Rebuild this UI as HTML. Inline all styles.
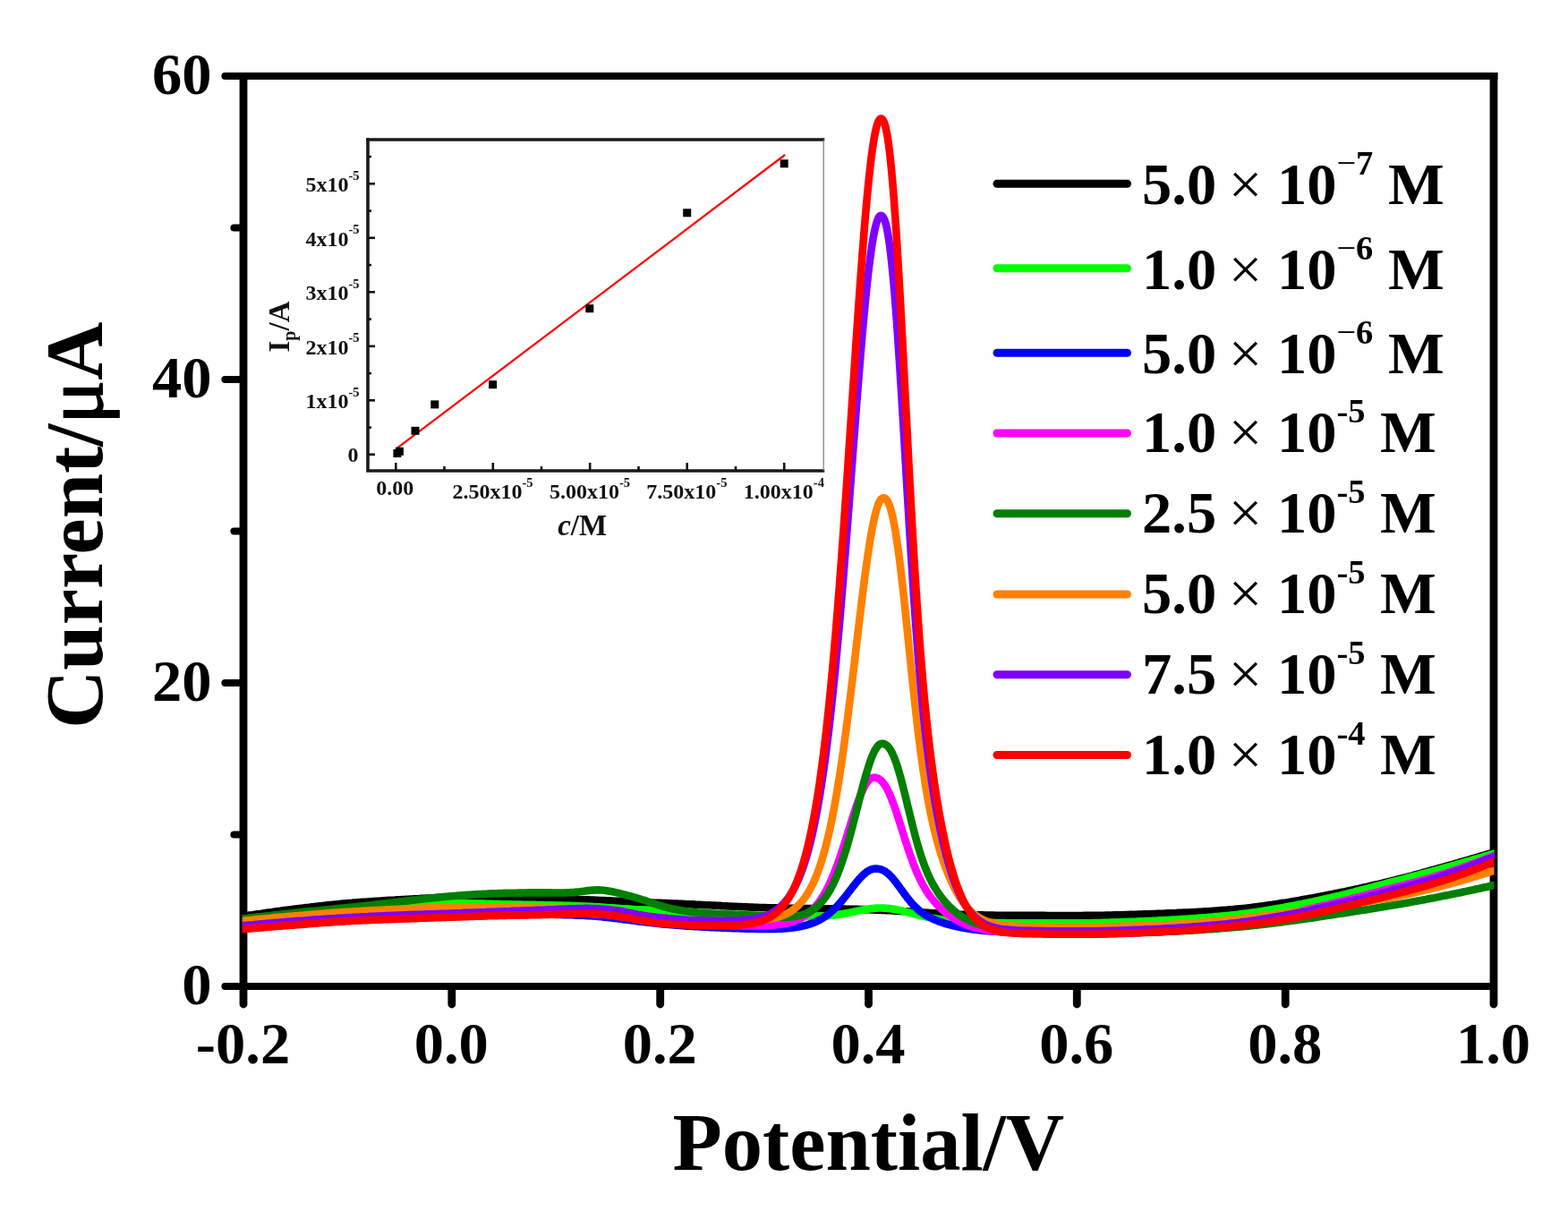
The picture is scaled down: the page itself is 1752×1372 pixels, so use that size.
<!DOCTYPE html>
<html lang="en"><head><meta charset="utf-8"><title>Current vs Potential</title>
<style>
html,body{margin:0;padding:0;background:#fff;}
body{width:1752px;height:1372px;overflow:hidden;}
svg{display:block;}
text{white-space:pre;}
</style></head><body>
<svg width="1752" height="1372" viewBox="0 0 1752 1372">
<g stroke="#000" fill="none" stroke-linecap="round">
<g stroke-linecap="butt">
<line x1="272" y1="80.9" x2="272" y2="1102" stroke-width="8.8"/>
<line x1="1669" y1="80.9" x2="1669" y2="1102" stroke-width="8.8"/>
<line x1="272" y1="85" x2="1673.4" y2="85" stroke-width="8.2"/>
<line x1="272" y1="1102" x2="1669" y2="1102" stroke-width="8.2"/>
</g>
<line x1="251.5" y1="1102.0" x2="272" y2="1102.0" stroke-width="8.2"/>
<line x1="251.5" y1="763.0" x2="272" y2="763.0" stroke-width="8.2"/>
<line x1="251.5" y1="424.0" x2="272" y2="424.0" stroke-width="8.2"/>
<line x1="251.5" y1="85.0" x2="272" y2="85.0" stroke-width="8.2"/>
<line x1="261.5" y1="932.5" x2="272" y2="932.5" stroke-width="8.2"/>
<line x1="261.5" y1="593.5" x2="272" y2="593.5" stroke-width="8.2"/>
<line x1="261.5" y1="254.5" x2="272" y2="254.5" stroke-width="8.2"/>
<line x1="272.0" y1="1103" x2="272.0" y2="1122" stroke-width="8.8"/>
<line x1="504.8" y1="1103" x2="504.8" y2="1122" stroke-width="8.8"/>
<line x1="737.7" y1="1103" x2="737.7" y2="1122" stroke-width="8.8"/>
<line x1="970.5" y1="1103" x2="970.5" y2="1122" stroke-width="8.8"/>
<line x1="1203.3" y1="1103" x2="1203.3" y2="1122" stroke-width="8.8"/>
<line x1="1436.2" y1="1103" x2="1436.2" y2="1122" stroke-width="8.8"/>
<line x1="1669.0" y1="1103" x2="1669.0" y2="1122" stroke-width="8.8"/>
</g>
<defs><clipPath id="plotclip"><rect x="270.8" y="85" width="1398.7" height="1017"/></clipPath></defs>
<g fill="none" stroke-width="8.6" stroke-linejoin="round" stroke-linecap="butt" clip-path="url(#plotclip)">
<polyline stroke="#000000" points="264,1024.9 267,1024.4 270,1024.0 273,1023.5 276,1023.1 279,1022.6 282,1022.2 285,1021.7 288,1021.3 291,1020.9 294,1020.4 297,1020.0 300,1019.6 303,1019.2 306,1018.7 309,1018.3 312,1017.9 315,1017.5 318,1017.1 321,1016.7 324,1016.4 327,1016.0 330,1015.6 333,1015.2 336,1014.9 339,1014.5 342,1014.1 345,1013.8 348,1013.4 351,1013.1 354,1012.7 357,1012.4 360,1012.1 363,1011.7 366,1011.4 369,1011.1 372,1010.8 375,1010.5 378,1010.2 381,1009.9 384,1009.6 387,1009.4 390,1009.1 393,1008.9 396,1008.6 399,1008.4 402,1008.1 405,1007.9 408,1007.7 411,1007.5 414,1007.3 417,1007.1 420,1006.9 423,1006.7 426,1006.5 429,1006.3 432,1006.1 435,1005.9 438,1005.7 441,1005.6 444,1005.4 447,1005.2 450,1005.0 453,1004.9 456,1004.7 459,1004.5 462,1004.4 465,1004.2 468,1004.1 471,1003.9 474,1003.8 477,1003.6 480,1003.5 483,1003.4 486,1003.3 489,1003.2 492,1003.1 495,1003.1 498,1003.0 501,1003.0 504,1003.0 507,1002.9 510,1002.9 513,1002.9 516,1003.0 519,1003.0 522,1003.0 525,1003.0 528,1003.0 531,1003.1 534,1003.1 537,1003.1 540,1003.2 543,1003.2 546,1003.2 549,1003.3 552,1003.3 555,1003.4 558,1003.4 561,1003.5 564,1003.5 567,1003.5 570,1003.6 573,1003.6 576,1003.7 579,1003.8 582,1003.8 585,1003.9 588,1003.9 591,1004.0 594,1004.0 597,1004.1 600,1004.2 603,1004.2 606,1004.3 609,1004.3 612,1004.4 615,1004.5 618,1004.5 621,1004.6 624,1004.6 627,1004.7 630,1004.8 633,1004.8 636,1004.9 639,1004.9 642,1005.0 645,1005.1 648,1005.2 651,1005.2 654,1005.3 657,1005.4 660,1005.5 663,1005.6 666,1005.7 669,1005.9 672,1006.0 675,1006.1 678,1006.3 681,1006.4 684,1006.6 687,1006.8 690,1006.9 693,1007.1 696,1007.2 699,1007.4 702,1007.5 705,1007.7 708,1007.8 711,1007.9 714,1008.0 717,1008.1 720,1008.3 723,1008.4 726,1008.5 729,1008.6 732,1008.7 735,1008.8 738,1008.9 741,1009.0 744,1009.1 747,1009.3 750,1009.4 753,1009.5 756,1009.6 759,1009.8 762,1009.9 765,1010.0 768,1010.2 771,1010.3 774,1010.4 777,1010.6 780,1010.7 783,1010.9 786,1011.0 789,1011.2 792,1011.3 795,1011.5 798,1011.6 801,1011.8 804,1011.9 807,1012.1 810,1012.2 813,1012.4 816,1012.5 819,1012.7 822,1012.8 825,1013.0 828,1013.1 831,1013.3 834,1013.4 837,1013.5 840,1013.6 843,1013.8 846,1013.9 849,1014.0 852,1014.1 855,1014.1 858,1014.2 861,1014.3 864,1014.4 867,1014.4 870,1014.5 873,1014.6 876,1014.6 879,1014.7 880,1014.7 881,1014.7 882,1014.7 883,1014.7 884,1014.8 885,1014.8 886,1014.8 887,1014.8 888,1014.8 889,1014.9 890,1014.9 891,1014.9 892,1014.9 893,1014.9 894,1014.9 895,1015.0 896,1015.0 897,1015.0 898,1015.0 899,1015.0 900,1015.0 901,1015.0 902,1015.1 903,1015.1 904,1015.1 905,1015.1 906,1015.1 907,1015.1 908,1015.1 909,1015.2 910,1015.2 911,1015.2 912,1015.2 913,1015.2 914,1015.2 915,1015.2 916,1015.3 917,1015.3 918,1015.3 919,1015.3 920,1015.3 921,1015.3 922,1015.3 923,1015.4 924,1015.4 925,1015.4 926,1015.4 927,1015.4 928,1015.4 929,1015.4 930,1015.4 931,1015.5 932,1015.5 933,1015.5 934,1015.5 935,1015.5 936,1015.5 937,1015.5 938,1015.6 939,1015.6 940,1015.6 941,1015.6 942,1015.6 943,1015.6 944,1015.6 945,1015.7 946,1015.7 947,1015.7 948,1015.7 949,1015.7 950,1015.8 951,1015.8 952,1015.8 953,1015.8 954,1015.8 955,1015.9 956,1015.9 957,1015.9 958,1015.9 959,1016.0 960,1016.0 961,1016.0 962,1016.0 963,1016.1 964,1016.1 965,1016.1 966,1016.1 967,1016.2 968,1016.2 969,1016.2 970,1016.3 971,1016.3 972,1016.3 973,1016.4 974,1016.4 975,1016.5 976,1016.5 977,1016.5 978,1016.6 979,1016.6 980,1016.6 981,1016.7 982,1016.7 983,1016.8 984,1016.8 985,1016.9 986,1016.9 987,1017.0 988,1017.0 989,1017.0 990,1017.1 991,1017.1 992,1017.2 993,1017.2 994,1017.3 995,1017.3 996,1017.4 997,1017.4 998,1017.5 999,1017.6 1000,1017.6 1001,1017.7 1002,1017.7 1003,1017.8 1004,1017.8 1005,1017.9 1006,1017.9 1007,1018.0 1008,1018.0 1009,1018.1 1010,1018.2 1011,1018.2 1012,1018.3 1013,1018.3 1014,1018.4 1015,1018.5 1016,1018.5 1017,1018.6 1018,1018.7 1019,1018.7 1020,1018.8 1021,1018.8 1022,1018.9 1023,1019.0 1024,1019.0 1025,1019.1 1026,1019.2 1027,1019.2 1028,1019.3 1029,1019.4 1030,1019.4 1031,1019.5 1032,1019.6 1033,1019.6 1034,1019.7 1035,1019.8 1036,1019.8 1037,1019.9 1038,1020.0 1039,1020.0 1040,1020.1 1041,1020.2 1042,1020.2 1043,1020.3 1044,1020.3 1045,1020.4 1046,1020.5 1047,1020.5 1048,1020.6 1049,1020.6 1050,1020.7 1051,1020.8 1052,1020.8 1053,1020.9 1054,1020.9 1055,1021.0 1056,1021.0 1057,1021.1 1058,1021.1 1059,1021.2 1060,1021.2 1061,1021.3 1062,1021.3 1063,1021.3 1064,1021.4 1065,1021.4 1066,1021.5 1067,1021.5 1068,1021.6 1069,1021.6 1070,1021.6 1071,1021.7 1072,1021.7 1073,1021.7 1074,1021.8 1075,1021.8 1076,1021.9 1077,1021.9 1078,1021.9 1079,1022.0 1080,1022.0 1081,1022.0 1082,1022.0 1083,1022.1 1084,1022.1 1085,1022.1 1086,1022.2 1087,1022.2 1088,1022.2 1089,1022.2 1090,1022.3 1092,1022.3 1095,1022.4 1098,1022.4 1101,1022.5 1104,1022.5 1107,1022.6 1110,1022.6 1113,1022.7 1116,1022.7 1119,1022.7 1122,1022.7 1125,1022.8 1128,1022.8 1131,1022.8 1134,1022.8 1137,1022.8 1140,1022.8 1143,1022.9 1146,1022.9 1149,1022.9 1152,1022.9 1155,1022.9 1158,1022.9 1161,1022.9 1164,1022.9 1167,1022.9 1170,1023.0 1173,1023.0 1176,1023.0 1179,1023.0 1182,1023.0 1185,1023.0 1188,1023.0 1191,1023.0 1194,1023.0 1197,1023.0 1200,1023.0 1203,1023.0 1206,1023.0 1209,1023.0 1212,1022.9 1215,1022.9 1218,1022.9 1221,1022.9 1224,1022.8 1227,1022.8 1230,1022.7 1233,1022.7 1236,1022.6 1239,1022.6 1242,1022.5 1245,1022.4 1248,1022.3 1251,1022.3 1254,1022.2 1257,1022.1 1260,1022.0 1263,1021.9 1266,1021.8 1269,1021.7 1272,1021.6 1275,1021.5 1278,1021.4 1281,1021.3 1284,1021.2 1287,1021.1 1290,1021.0 1293,1020.9 1296,1020.8 1299,1020.7 1302,1020.5 1305,1020.4 1308,1020.3 1311,1020.2 1314,1020.1 1317,1019.9 1320,1019.8 1323,1019.6 1326,1019.5 1329,1019.4 1332,1019.2 1335,1019.0 1338,1018.9 1341,1018.7 1344,1018.5 1347,1018.3 1350,1018.2 1353,1018.0 1356,1017.8 1359,1017.6 1362,1017.4 1365,1017.1 1368,1016.9 1371,1016.7 1374,1016.4 1377,1016.2 1380,1015.9 1383,1015.6 1386,1015.3 1389,1015.0 1392,1014.7 1395,1014.4 1398,1014.0 1401,1013.6 1404,1013.2 1407,1012.8 1410,1012.4 1413,1012.0 1416,1011.6 1419,1011.1 1422,1010.7 1425,1010.2 1428,1009.8 1431,1009.3 1434,1008.8 1437,1008.4 1440,1007.9 1443,1007.4 1446,1006.9 1449,1006.4 1452,1005.9 1455,1005.3 1458,1004.8 1461,1004.3 1464,1003.7 1467,1003.2 1470,1002.6 1473,1002.0 1476,1001.5 1479,1000.9 1482,1000.3 1485,999.7 1488,999.1 1491,998.5 1494,997.9 1497,997.3 1500,996.7 1503,996.1 1506,995.4 1509,994.8 1512,994.2 1515,993.5 1518,992.9 1521,992.2 1524,991.5 1527,990.9 1530,990.2 1533,989.5 1536,988.8 1539,988.1 1542,987.4 1545,986.7 1548,985.9 1551,985.2 1554,984.5 1557,983.7 1560,983.0 1563,982.2 1566,981.4 1569,980.6 1572,979.9 1575,979.1 1578,978.3 1581,977.4 1584,976.6 1587,975.8 1590,975.0 1593,974.2 1596,973.3 1599,972.5 1602,971.7 1605,970.8 1608,970.0 1611,969.2 1614,968.3 1617,967.5 1620,966.6 1623,965.8 1626,964.9 1629,964.1 1632,963.2 1635,962.3 1638,961.5 1641,960.6 1644,959.7 1647,958.8 1650,958.0 1653,957.1 1656,956.2 1659,955.3 1662,954.4 1665,953.5 1668,952.6 1671,951.7 1674,950.8 1677,950.0"/>
<polyline stroke="#00ff00" points="264,1027.4 267,1027.1 270,1026.8 273,1026.5 276,1026.2 279,1025.8 282,1025.5 285,1025.2 288,1024.9 291,1024.6 294,1024.3 297,1024.0 300,1023.7 303,1023.4 306,1023.1 309,1022.8 312,1022.5 315,1022.2 318,1021.9 321,1021.6 324,1021.3 327,1021.1 330,1020.8 333,1020.5 336,1020.2 339,1019.9 342,1019.7 345,1019.4 348,1019.1 351,1018.9 354,1018.6 357,1018.4 360,1018.1 363,1017.8 366,1017.6 369,1017.3 372,1017.1 375,1016.8 378,1016.6 381,1016.4 384,1016.1 387,1015.9 390,1015.6 393,1015.4 396,1015.1 399,1014.9 402,1014.6 405,1014.4 408,1014.1 411,1013.9 414,1013.6 417,1013.4 420,1013.1 423,1012.9 426,1012.6 429,1012.4 432,1012.1 435,1011.9 438,1011.6 441,1011.4 444,1011.1 447,1010.9 450,1010.7 453,1010.5 456,1010.3 459,1010.1 462,1009.9 465,1009.7 468,1009.5 471,1009.4 474,1009.2 477,1009.1 480,1009.0 483,1008.9 486,1008.8 489,1008.7 492,1008.7 495,1008.7 498,1008.6 501,1008.6 504,1008.6 507,1008.7 510,1008.7 513,1008.8 516,1008.8 519,1008.9 522,1009.0 525,1009.1 528,1009.2 531,1009.3 534,1009.4 537,1009.5 540,1009.6 543,1009.7 546,1009.8 549,1009.9 552,1010.0 555,1010.1 558,1010.1 561,1010.2 564,1010.3 567,1010.3 570,1010.4 573,1010.5 576,1010.5 579,1010.6 582,1010.6 585,1010.7 588,1010.7 591,1010.8 594,1010.8 597,1010.9 600,1011.0 603,1011.0 606,1011.1 609,1011.2 612,1011.2 615,1011.3 618,1011.4 621,1011.5 624,1011.6 627,1011.6 630,1011.7 633,1011.8 636,1011.9 639,1012.0 642,1012.1 645,1012.3 648,1012.4 651,1012.5 654,1012.6 657,1012.8 660,1012.9 663,1013.1 666,1013.2 669,1013.4 672,1013.6 675,1013.8 678,1014.0 681,1014.2 684,1014.4 687,1014.6 690,1014.8 693,1015.0 696,1015.2 699,1015.4 702,1015.6 705,1015.8 708,1016.0 711,1016.2 714,1016.3 717,1016.5 720,1016.7 723,1016.9 726,1017.1 729,1017.3 732,1017.5 735,1017.7 738,1018.0 741,1018.2 744,1018.4 747,1018.7 750,1018.9 753,1019.1 756,1019.4 759,1019.6 762,1019.8 765,1020.0 768,1020.1 771,1020.3 774,1020.4 777,1020.5 780,1020.6 783,1020.7 786,1020.8 789,1020.9 792,1021.0 795,1021.1 798,1021.1 801,1021.2 804,1021.3 807,1021.3 810,1021.4 813,1021.5 816,1021.5 819,1021.6 822,1021.7 825,1021.8 828,1021.9 831,1022.0 834,1022.1 837,1022.2 840,1022.3 843,1022.4 846,1022.5 849,1022.6 852,1022.7 855,1022.8 858,1022.9 861,1023.1 864,1023.2 867,1023.3 870,1023.4 873,1023.5 876,1023.6 879,1023.7 880,1023.8 881,1023.8 882,1023.8 883,1023.8 884,1023.9 885,1023.9 886,1023.9 887,1023.9 888,1024.0 889,1024.0 890,1024.0 891,1024.0 892,1024.0 893,1024.1 894,1024.1 895,1024.1 896,1024.1 897,1024.1 898,1024.1 899,1024.1 900,1024.1 901,1024.1 902,1024.1 903,1024.1 904,1024.1 905,1024.1 906,1024.1 907,1024.0 908,1024.0 909,1024.0 910,1024.0 911,1024.0 912,1023.9 913,1023.9 914,1023.9 915,1023.8 916,1023.8 917,1023.7 918,1023.7 919,1023.6 920,1023.6 921,1023.5 922,1023.4 923,1023.3 924,1023.3 925,1023.2 926,1023.1 927,1023.0 928,1022.9 929,1022.8 930,1022.7 931,1022.6 932,1022.5 933,1022.3 934,1022.2 935,1022.1 936,1021.9 937,1021.8 938,1021.6 939,1021.5 940,1021.3 941,1021.2 942,1021.0 943,1020.8 944,1020.6 945,1020.4 946,1020.3 947,1020.1 948,1019.9 949,1019.7 950,1019.5 951,1019.3 952,1019.1 953,1018.9 954,1018.7 955,1018.5 956,1018.2 957,1018.0 958,1017.8 959,1017.6 960,1017.4 961,1017.2 962,1017.0 963,1016.8 964,1016.6 965,1016.5 966,1016.3 967,1016.1 968,1015.9 969,1015.8 970,1015.6 971,1015.5 972,1015.3 973,1015.2 974,1015.1 975,1015.0 976,1014.9 977,1014.8 978,1014.7 979,1014.6 980,1014.6 981,1014.5 982,1014.5 983,1014.5 984,1014.5 985,1014.5 986,1014.5 987,1014.6 988,1014.6 989,1014.7 990,1014.7 991,1014.8 992,1014.9 993,1015.0 994,1015.1 995,1015.2 996,1015.4 997,1015.5 998,1015.7 999,1015.8 1000,1016.0 1001,1016.2 1002,1016.4 1003,1016.6 1004,1016.8 1005,1017.0 1006,1017.2 1007,1017.4 1008,1017.6 1009,1017.9 1010,1018.1 1011,1018.4 1012,1018.6 1013,1018.9 1014,1019.1 1015,1019.4 1016,1019.6 1017,1019.9 1018,1020.2 1019,1020.4 1020,1020.7 1021,1021.0 1022,1021.2 1023,1021.5 1024,1021.7 1025,1022.0 1026,1022.2 1027,1022.5 1028,1022.7 1029,1023.0 1030,1023.2 1031,1023.5 1032,1023.7 1033,1023.9 1034,1024.2 1035,1024.4 1036,1024.6 1037,1024.8 1038,1025.0 1039,1025.2 1040,1025.4 1041,1025.6 1042,1025.8 1043,1026.0 1044,1026.2 1045,1026.3 1046,1026.5 1047,1026.7 1048,1026.8 1049,1027.0 1050,1027.1 1051,1027.3 1052,1027.4 1053,1027.5 1054,1027.7 1055,1027.8 1056,1027.9 1057,1028.0 1058,1028.1 1059,1028.2 1060,1028.3 1061,1028.4 1062,1028.5 1063,1028.6 1064,1028.7 1065,1028.8 1066,1028.9 1067,1029.0 1068,1029.0 1069,1029.1 1070,1029.2 1071,1029.2 1072,1029.3 1073,1029.4 1074,1029.4 1075,1029.5 1076,1029.6 1077,1029.6 1078,1029.7 1079,1029.7 1080,1029.8 1081,1029.8 1082,1029.9 1083,1029.9 1084,1030.0 1085,1030.0 1086,1030.1 1087,1030.1 1088,1030.2 1089,1030.2 1090,1030.2 1092,1030.3 1095,1030.4 1098,1030.5 1101,1030.7 1104,1030.7 1107,1030.8 1110,1030.9 1113,1031.0 1116,1031.0 1119,1031.1 1122,1031.1 1125,1031.2 1128,1031.2 1131,1031.2 1134,1031.3 1137,1031.3 1140,1031.3 1143,1031.3 1146,1031.3 1149,1031.3 1152,1031.3 1155,1031.3 1158,1031.3 1161,1031.3 1164,1031.3 1167,1031.3 1170,1031.3 1173,1031.3 1176,1031.3 1179,1031.3 1182,1031.3 1185,1031.3 1188,1031.3 1191,1031.3 1194,1031.3 1197,1031.3 1200,1031.3 1203,1031.3 1206,1031.3 1209,1031.3 1212,1031.2 1215,1031.2 1218,1031.2 1221,1031.1 1224,1031.1 1227,1031.0 1230,1031.0 1233,1030.9 1236,1030.8 1239,1030.7 1242,1030.6 1245,1030.6 1248,1030.5 1251,1030.4 1254,1030.2 1257,1030.1 1260,1030.0 1263,1029.9 1266,1029.8 1269,1029.7 1272,1029.5 1275,1029.4 1278,1029.3 1281,1029.1 1284,1029.0 1287,1028.9 1290,1028.7 1293,1028.6 1296,1028.4 1299,1028.3 1302,1028.1 1305,1028.0 1308,1027.8 1311,1027.6 1314,1027.5 1317,1027.3 1320,1027.1 1323,1026.9 1326,1026.7 1329,1026.5 1332,1026.3 1335,1026.1 1338,1025.9 1341,1025.6 1344,1025.4 1347,1025.2 1350,1024.9 1353,1024.7 1356,1024.4 1359,1024.1 1362,1023.9 1365,1023.6 1368,1023.3 1371,1023.0 1374,1022.7 1377,1022.4 1380,1022.0 1383,1021.7 1386,1021.3 1389,1020.9 1392,1020.6 1395,1020.2 1398,1019.7 1401,1019.3 1404,1018.9 1407,1018.4 1410,1018.0 1413,1017.5 1416,1017.0 1419,1016.5 1422,1016.0 1425,1015.5 1428,1014.9 1431,1014.4 1434,1013.9 1437,1013.3 1440,1012.8 1443,1012.2 1446,1011.6 1449,1011.0 1452,1010.5 1455,1009.9 1458,1009.3 1461,1008.6 1464,1008.0 1467,1007.4 1470,1006.7 1473,1006.1 1476,1005.4 1479,1004.8 1482,1004.1 1485,1003.4 1488,1002.7 1491,1002.0 1494,1001.3 1497,1000.6 1500,999.8 1503,999.1 1506,998.3 1509,997.6 1512,996.8 1515,996.0 1518,995.3 1521,994.5 1524,993.7 1527,992.9 1530,992.1 1533,991.3 1536,990.5 1539,989.7 1542,988.9 1545,988.1 1548,987.3 1551,986.5 1554,985.7 1557,984.9 1560,984.1 1563,983.4 1566,982.6 1569,981.8 1572,981.0 1575,980.2 1578,979.4 1581,978.6 1584,977.8 1587,977.0 1590,976.2 1593,975.4 1596,974.6 1599,973.8 1602,973.0 1605,972.2 1608,971.3 1611,970.5 1614,969.7 1617,968.8 1620,968.0 1623,967.1 1626,966.3 1629,965.4 1632,964.6 1635,963.7 1638,962.8 1641,962.0 1644,961.1 1647,960.2 1650,959.3 1653,958.5 1656,957.6 1659,956.7 1662,955.8 1665,954.9 1668,954.0 1671,953.1 1674,952.2 1677,951.3"/>
<polyline stroke="#0000ff" points="264,1038.3 267,1038.0 270,1037.8 273,1037.5 276,1037.2 279,1037.0 282,1036.7 285,1036.5 288,1036.2 291,1036.0 294,1035.7 297,1035.5 300,1035.2 303,1035.0 306,1034.8 309,1034.5 312,1034.3 315,1034.0 318,1033.8 321,1033.6 324,1033.3 327,1033.1 330,1032.8 333,1032.6 336,1032.4 339,1032.1 342,1031.9 345,1031.7 348,1031.4 351,1031.2 354,1031.0 357,1030.7 360,1030.5 363,1030.3 366,1030.1 369,1029.9 372,1029.7 375,1029.5 378,1029.3 381,1029.1 384,1028.9 387,1028.7 390,1028.6 393,1028.4 396,1028.3 399,1028.1 402,1028.0 405,1027.8 408,1027.7 411,1027.6 414,1027.4 417,1027.3 420,1027.2 423,1027.1 426,1027.0 429,1026.8 432,1026.7 435,1026.6 438,1026.5 441,1026.4 444,1026.3 447,1026.2 450,1026.1 453,1026.0 456,1025.9 459,1025.8 462,1025.6 465,1025.5 468,1025.4 471,1025.3 474,1025.2 477,1025.1 480,1025.0 483,1024.9 486,1024.8 489,1024.7 492,1024.6 495,1024.5 498,1024.4 501,1024.3 504,1024.2 507,1024.1 510,1024.0 513,1023.9 516,1023.8 519,1023.7 522,1023.6 525,1023.5 528,1023.4 531,1023.3 534,1023.2 537,1023.1 540,1023.0 543,1022.9 546,1022.8 549,1022.7 552,1022.6 555,1022.5 558,1022.5 561,1022.4 564,1022.3 567,1022.3 570,1022.2 573,1022.1 576,1022.1 579,1022.0 582,1022.0 585,1021.9 588,1021.9 591,1021.9 594,1021.8 597,1021.8 600,1021.8 603,1021.8 606,1021.8 609,1021.8 612,1021.8 615,1021.8 618,1021.8 621,1021.9 624,1021.9 627,1022.0 630,1022.1 633,1022.1 636,1022.2 639,1022.3 642,1022.4 645,1022.6 648,1022.7 651,1022.8 654,1023.0 657,1023.2 660,1023.3 663,1023.5 666,1023.8 669,1024.0 672,1024.3 675,1024.6 678,1024.9 681,1025.2 684,1025.6 687,1025.9 690,1026.3 693,1026.7 696,1027.1 699,1027.4 702,1027.8 705,1028.2 708,1028.6 711,1029.0 714,1029.4 717,1029.8 720,1030.1 723,1030.5 726,1030.8 729,1031.2 732,1031.5 735,1031.8 738,1032.1 741,1032.4 744,1032.7 747,1033.0 750,1033.2 753,1033.5 756,1033.7 759,1033.9 762,1034.1 765,1034.4 768,1034.6 771,1034.7 774,1034.9 777,1035.1 780,1035.3 783,1035.5 786,1035.6 789,1035.8 792,1035.9 795,1036.1 798,1036.2 801,1036.4 804,1036.5 807,1036.7 810,1036.8 813,1036.9 816,1037.0 819,1037.1 822,1037.2 825,1037.3 828,1037.4 831,1037.5 834,1037.6 837,1037.7 840,1037.8 843,1037.8 846,1037.9 849,1037.9 852,1038.0 855,1038.0 858,1038.0 861,1038.0 864,1037.9 867,1037.9 870,1037.8 873,1037.6 876,1037.4 879,1037.2 880,1037.1 881,1037.0 882,1036.9 883,1036.8 884,1036.7 885,1036.6 886,1036.5 887,1036.3 888,1036.2 889,1036.1 890,1035.9 891,1035.7 892,1035.6 893,1035.4 894,1035.2 895,1035.0 896,1034.8 897,1034.6 898,1034.3 899,1034.1 900,1033.8 901,1033.6 902,1033.3 903,1033.0 904,1032.7 905,1032.4 906,1032.0 907,1031.7 908,1031.3 909,1030.9 910,1030.5 911,1030.1 912,1029.6 913,1029.2 914,1028.7 915,1028.2 916,1027.7 917,1027.1 918,1026.5 919,1026.0 920,1025.3 921,1024.7 922,1024.0 923,1023.3 924,1022.6 925,1021.8 926,1021.1 927,1020.2 928,1019.4 929,1018.5 930,1017.7 931,1016.7 932,1015.8 933,1014.8 934,1013.8 935,1012.7 936,1011.7 937,1010.6 938,1009.5 939,1008.3 940,1007.2 941,1006.0 942,1004.8 943,1003.5 944,1002.3 945,1001.0 946,999.8 947,998.5 948,997.2 949,995.9 950,994.6 951,993.3 952,992.0 953,990.7 954,989.4 955,988.2 956,986.9 957,985.7 958,984.5 959,983.3 960,982.2 961,981.0 962,980.0 963,978.9 964,978.0 965,977.0 966,976.1 967,975.3 968,974.5 969,973.8 970,973.2 971,972.6 972,972.1 973,971.7 974,971.3 975,971.0 976,970.8 977,970.6 978,970.6 979,970.6 980,970.6 981,970.7 982,970.9 983,971.1 984,971.3 985,971.7 986,972.0 987,972.5 988,973.0 989,973.6 990,974.3 991,975.1 992,975.9 993,976.7 994,977.7 995,978.7 996,979.7 997,980.8 998,982.0 999,983.2 1000,984.4 1001,985.7 1002,987.0 1003,988.3 1004,989.7 1005,991.1 1006,992.5 1007,993.8 1008,995.2 1009,996.6 1010,998.0 1011,999.4 1012,1000.7 1013,1002.0 1014,1003.3 1015,1004.6 1016,1005.8 1017,1007.0 1018,1008.2 1019,1009.4 1020,1010.5 1021,1011.5 1022,1012.6 1023,1013.5 1024,1014.5 1025,1015.4 1026,1016.3 1027,1017.1 1028,1018.0 1029,1018.7 1030,1019.5 1031,1020.2 1032,1020.9 1033,1021.6 1034,1022.2 1035,1022.8 1036,1023.4 1037,1023.9 1038,1024.5 1039,1025.0 1040,1025.5 1041,1026.0 1042,1026.5 1043,1026.9 1044,1027.4 1045,1027.8 1046,1028.2 1047,1028.6 1048,1029.0 1049,1029.4 1050,1029.8 1051,1030.1 1052,1030.5 1053,1030.8 1054,1031.1 1055,1031.5 1056,1031.8 1057,1032.1 1058,1032.4 1059,1032.7 1060,1032.9 1061,1033.2 1062,1033.5 1063,1033.7 1064,1034.0 1065,1034.2 1066,1034.5 1067,1034.7 1068,1034.9 1069,1035.2 1070,1035.4 1071,1035.6 1072,1035.8 1073,1036.0 1074,1036.2 1075,1036.4 1076,1036.6 1077,1036.7 1078,1036.9 1079,1037.1 1080,1037.3 1081,1037.4 1082,1037.6 1083,1037.7 1084,1037.9 1085,1038.0 1086,1038.2 1087,1038.3 1088,1038.5 1089,1038.6 1090,1038.7 1092,1039.0 1095,1039.3 1098,1039.6 1101,1039.9 1104,1040.2 1107,1040.4 1110,1040.6 1113,1040.8 1116,1041.0 1119,1041.1 1122,1041.3 1125,1041.4 1128,1041.6 1131,1041.7 1134,1041.8 1137,1041.9 1140,1042.0 1143,1042.1 1146,1042.3 1149,1042.4 1152,1042.5 1155,1042.6 1158,1042.6 1161,1042.7 1164,1042.8 1167,1042.9 1170,1043.0 1173,1043.0 1176,1043.1 1179,1043.2 1182,1043.2 1185,1043.3 1188,1043.3 1191,1043.4 1194,1043.4 1197,1043.4 1200,1043.4 1203,1043.4 1206,1043.4 1209,1043.4 1212,1043.4 1215,1043.4 1218,1043.4 1221,1043.4 1224,1043.3 1227,1043.3 1230,1043.2 1233,1043.2 1236,1043.1 1239,1043.1 1242,1043.0 1245,1042.9 1248,1042.8 1251,1042.8 1254,1042.7 1257,1042.6 1260,1042.5 1263,1042.4 1266,1042.3 1269,1042.2 1272,1042.1 1275,1042.0 1278,1041.8 1281,1041.7 1284,1041.6 1287,1041.5 1290,1041.4 1293,1041.2 1296,1041.1 1299,1041.0 1302,1040.8 1305,1040.7 1308,1040.5 1311,1040.3 1314,1040.1 1317,1040.0 1320,1039.8 1323,1039.6 1326,1039.3 1329,1039.1 1332,1038.9 1335,1038.6 1338,1038.4 1341,1038.1 1344,1037.8 1347,1037.6 1350,1037.3 1353,1037.0 1356,1036.7 1359,1036.4 1362,1036.1 1365,1035.8 1368,1035.5 1371,1035.1 1374,1034.8 1377,1034.4 1380,1034.1 1383,1033.7 1386,1033.4 1389,1033.0 1392,1032.6 1395,1032.2 1398,1031.7 1401,1031.3 1404,1030.9 1407,1030.4 1410,1029.9 1413,1029.5 1416,1029.0 1419,1028.5 1422,1028.0 1425,1027.5 1428,1026.9 1431,1026.4 1434,1025.9 1437,1025.3 1440,1024.8 1443,1024.2 1446,1023.6 1449,1023.0 1452,1022.4 1455,1021.8 1458,1021.2 1461,1020.6 1464,1020.0 1467,1019.3 1470,1018.6 1473,1018.0 1476,1017.3 1479,1016.6 1482,1016.0 1485,1015.3 1488,1014.6 1491,1013.9 1494,1013.2 1497,1012.5 1500,1011.8 1503,1011.1 1506,1010.4 1509,1009.7 1512,1009.0 1515,1008.2 1518,1007.5 1521,1006.8 1524,1006.0 1527,1005.3 1530,1004.5 1533,1003.8 1536,1003.0 1539,1002.3 1542,1001.5 1545,1000.7 1548,999.9 1551,999.1 1554,998.3 1557,997.5 1560,996.7 1563,995.9 1566,995.1 1569,994.3 1572,993.5 1575,992.6 1578,991.8 1581,990.9 1584,990.1 1587,989.2 1590,988.3 1593,987.4 1596,986.5 1599,985.6 1602,984.7 1605,983.8 1608,982.8 1611,981.9 1614,980.9 1617,979.9 1620,978.9 1623,977.9 1626,976.9 1629,975.9 1632,974.8 1635,973.8 1638,972.7 1641,971.7 1644,970.6 1647,969.5 1650,968.4 1653,967.3 1656,966.2 1659,965.1 1662,964.0 1665,962.8 1668,961.7 1671,960.6 1674,959.4 1677,958.3"/>
<polyline stroke="#ff00ff" points="264,1035.6 267,1035.4 270,1035.2 273,1035.0 276,1034.7 279,1034.5 282,1034.3 285,1034.1 288,1033.9 291,1033.6 294,1033.4 297,1033.2 300,1033.0 303,1032.8 306,1032.6 309,1032.3 312,1032.1 315,1031.9 318,1031.7 321,1031.5 324,1031.3 327,1031.1 330,1030.9 333,1030.7 336,1030.5 339,1030.3 342,1030.2 345,1030.0 348,1029.8 351,1029.6 354,1029.4 357,1029.3 360,1029.1 363,1028.9 366,1028.7 369,1028.6 372,1028.4 375,1028.3 378,1028.1 381,1027.9 384,1027.8 387,1027.6 390,1027.5 393,1027.3 396,1027.2 399,1027.1 402,1026.9 405,1026.8 408,1026.6 411,1026.5 414,1026.4 417,1026.2 420,1026.1 423,1026.0 426,1025.8 429,1025.7 432,1025.6 435,1025.5 438,1025.4 441,1025.2 444,1025.1 447,1025.0 450,1024.9 453,1024.8 456,1024.7 459,1024.5 462,1024.4 465,1024.3 468,1024.2 471,1024.1 474,1024.0 477,1023.9 480,1023.8 483,1023.7 486,1023.6 489,1023.5 492,1023.4 495,1023.3 498,1023.2 501,1023.2 504,1023.1 507,1023.0 510,1022.9 513,1022.8 516,1022.7 519,1022.6 522,1022.5 525,1022.4 528,1022.3 531,1022.2 534,1022.1 537,1022.1 540,1022.0 543,1021.9 546,1021.8 549,1021.7 552,1021.6 555,1021.5 558,1021.5 561,1021.4 564,1021.3 567,1021.2 570,1021.2 573,1021.1 576,1021.1 579,1021.0 582,1020.9 585,1020.9 588,1020.9 591,1020.8 594,1020.8 597,1020.8 600,1020.7 603,1020.7 606,1020.7 609,1020.7 612,1020.7 615,1020.7 618,1020.7 621,1020.6 624,1020.6 627,1020.6 630,1020.6 633,1020.6 636,1020.6 639,1020.7 642,1020.7 645,1020.7 648,1020.7 651,1020.7 654,1020.8 657,1020.8 660,1020.9 663,1021.0 666,1021.2 669,1021.4 672,1021.6 675,1021.8 678,1022.1 681,1022.4 684,1022.8 687,1023.1 690,1023.5 693,1023.9 696,1024.4 699,1024.8 702,1025.2 705,1025.6 708,1026.0 711,1026.4 714,1026.8 717,1027.2 720,1027.6 723,1027.9 726,1028.3 729,1028.6 732,1029.0 735,1029.3 738,1029.6 741,1029.9 744,1030.2 747,1030.4 750,1030.7 753,1030.9 756,1031.2 759,1031.4 762,1031.6 765,1031.8 768,1032.0 771,1032.2 774,1032.4 777,1032.5 780,1032.7 783,1032.9 786,1033.0 789,1033.1 792,1033.3 795,1033.4 798,1033.5 801,1033.6 804,1033.7 807,1033.9 810,1033.9 813,1034.0 816,1034.1 819,1034.2 822,1034.2 825,1034.3 828,1034.3 831,1034.4 834,1034.4 837,1034.4 840,1034.4 843,1034.4 846,1034.4 849,1034.3 852,1034.3 855,1034.2 858,1034.0 861,1033.8 864,1033.6 867,1033.3 870,1033.0 873,1032.6 876,1032.1 879,1031.5 880,1031.3 881,1031.0 882,1030.8 883,1030.5 884,1030.2 885,1029.9 886,1029.6 887,1029.3 888,1028.9 889,1028.5 890,1028.1 891,1027.7 892,1027.3 893,1026.8 894,1026.3 895,1025.8 896,1025.3 897,1024.7 898,1024.1 899,1023.5 900,1022.8 901,1022.1 902,1021.4 903,1020.6 904,1019.8 905,1019.0 906,1018.1 907,1017.2 908,1016.2 909,1015.2 910,1014.1 911,1013.0 912,1011.8 913,1010.6 914,1009.4 915,1008.0 916,1006.7 917,1005.2 918,1003.7 919,1002.1 920,1000.5 921,998.8 922,997.0 923,995.2 924,993.3 925,991.3 926,989.3 927,987.2 928,985.0 929,982.7 930,980.4 931,978.0 932,975.5 933,973.0 934,970.4 935,967.7 936,965.0 937,962.2 938,959.3 939,956.4 940,953.4 941,950.4 942,947.4 943,944.3 944,941.1 945,938.0 946,934.8 947,931.6 948,928.4 949,925.2 950,922.0 951,918.8 952,915.6 953,912.5 954,909.4 955,906.3 956,903.4 957,900.4 958,897.6 959,894.8 960,892.2 961,889.6 962,887.2 963,884.8 964,882.7 965,880.6 966,878.7 967,876.9 968,875.3 969,873.8 970,872.6 971,871.5 972,870.5 973,869.8 974,869.2 975,868.9 976,868.7 977,868.7 978,868.8 979,869.0 980,869.3 981,869.7 982,870.2 983,870.9 984,871.7 985,872.6 986,873.7 987,874.9 988,876.3 989,877.8 990,879.4 991,881.2 992,883.1 993,885.2 994,887.4 995,889.7 996,892.2 997,894.7 998,897.4 999,900.1 1000,902.9 1001,905.8 1002,908.8 1003,911.9 1004,914.9 1005,918.1 1006,921.2 1007,924.4 1008,927.6 1009,930.8 1010,933.9 1011,937.1 1012,940.2 1013,943.3 1014,946.4 1015,949.4 1016,952.3 1017,955.2 1018,958.1 1019,960.8 1020,963.5 1021,966.2 1022,968.7 1023,971.2 1024,973.6 1025,975.9 1026,978.2 1027,980.3 1028,982.4 1029,984.4 1030,986.4 1031,988.3 1032,990.1 1033,991.8 1034,993.5 1035,995.1 1036,996.7 1037,998.2 1038,999.6 1039,1001.0 1040,1002.4 1041,1003.7 1042,1004.9 1043,1006.1 1044,1007.3 1045,1008.5 1046,1009.6 1047,1010.7 1048,1011.7 1049,1012.7 1050,1013.7 1051,1014.7 1052,1015.6 1053,1016.5 1054,1017.4 1055,1018.2 1056,1019.1 1057,1019.9 1058,1020.7 1059,1021.4 1060,1022.2 1061,1022.9 1062,1023.6 1063,1024.3 1064,1025.0 1065,1025.6 1066,1026.2 1067,1026.9 1068,1027.4 1069,1028.0 1070,1028.6 1071,1029.1 1072,1029.7 1073,1030.2 1074,1030.7 1075,1031.1 1076,1031.6 1077,1032.1 1078,1032.5 1079,1032.9 1080,1033.3 1081,1033.7 1082,1034.1 1083,1034.4 1084,1034.8 1085,1035.1 1086,1035.5 1087,1035.8 1088,1036.1 1089,1036.4 1090,1036.7 1092,1037.2 1095,1037.9 1098,1038.5 1101,1039.1 1104,1039.6 1107,1040.0 1110,1040.3 1113,1040.6 1116,1040.9 1119,1041.1 1122,1041.3 1125,1041.5 1128,1041.6 1131,1041.8 1134,1041.9 1137,1042.0 1140,1042.0 1143,1042.1 1146,1042.2 1149,1042.2 1152,1042.3 1155,1042.3 1158,1042.4 1161,1042.4 1164,1042.4 1167,1042.5 1170,1042.5 1173,1042.5 1176,1042.5 1179,1042.6 1182,1042.6 1185,1042.6 1188,1042.6 1191,1042.6 1194,1042.6 1197,1042.6 1200,1042.6 1203,1042.6 1206,1042.6 1209,1042.6 1212,1042.6 1215,1042.5 1218,1042.5 1221,1042.5 1224,1042.4 1227,1042.3 1230,1042.3 1233,1042.2 1236,1042.1 1239,1042.0 1242,1041.9 1245,1041.8 1248,1041.7 1251,1041.6 1254,1041.5 1257,1041.4 1260,1041.3 1263,1041.1 1266,1041.0 1269,1040.9 1272,1040.7 1275,1040.6 1278,1040.4 1281,1040.3 1284,1040.1 1287,1039.9 1290,1039.8 1293,1039.6 1296,1039.5 1299,1039.3 1302,1039.1 1305,1038.9 1308,1038.7 1311,1038.5 1314,1038.3 1317,1038.1 1320,1037.9 1323,1037.6 1326,1037.4 1329,1037.1 1332,1036.9 1335,1036.6 1338,1036.3 1341,1036.0 1344,1035.7 1347,1035.4 1350,1035.1 1353,1034.8 1356,1034.5 1359,1034.1 1362,1033.8 1365,1033.4 1368,1033.1 1371,1032.7 1374,1032.3 1377,1031.9 1380,1031.5 1383,1031.1 1386,1030.6 1389,1030.2 1392,1029.7 1395,1029.2 1398,1028.7 1401,1028.2 1404,1027.7 1407,1027.2 1410,1026.6 1413,1026.0 1416,1025.5 1419,1024.9 1422,1024.3 1425,1023.7 1428,1023.1 1431,1022.5 1434,1021.8 1437,1021.2 1440,1020.6 1443,1019.9 1446,1019.3 1449,1018.6 1452,1018.0 1455,1017.3 1458,1016.7 1461,1016.0 1464,1015.3 1467,1014.6 1470,1013.9 1473,1013.2 1476,1012.5 1479,1011.8 1482,1011.1 1485,1010.3 1488,1009.6 1491,1008.9 1494,1008.1 1497,1007.4 1500,1006.6 1503,1005.9 1506,1005.1 1509,1004.4 1512,1003.6 1515,1002.8 1518,1002.1 1521,1001.3 1524,1000.5 1527,999.7 1530,999.0 1533,998.2 1536,997.4 1539,996.6 1542,995.8 1545,995.0 1548,994.2 1551,993.5 1554,992.7 1557,991.9 1560,991.1 1563,990.3 1566,989.6 1569,988.8 1572,988.0 1575,987.2 1578,986.4 1581,985.6 1584,984.8 1587,984.0 1590,983.2 1593,982.3 1596,981.5 1599,980.6 1602,979.7 1605,978.8 1608,977.9 1611,976.9 1614,976.0 1617,975.0 1620,974.1 1623,973.1 1626,972.1 1629,971.0 1632,970.0 1635,968.9 1638,967.9 1641,966.8 1644,965.7 1647,964.6 1650,963.5 1653,962.4 1656,961.2 1659,960.1 1662,958.9 1665,957.8 1668,956.6 1671,955.5 1674,954.3 1677,953.1"/>
<polyline stroke="#007f00" points="264,1027.4 267,1027.0 270,1026.6 273,1026.3 276,1025.9 279,1025.6 282,1025.2 285,1024.9 288,1024.5 291,1024.2 294,1023.8 297,1023.5 300,1023.1 303,1022.8 306,1022.4 309,1022.1 312,1021.8 315,1021.4 318,1021.1 321,1020.8 324,1020.5 327,1020.2 330,1019.8 333,1019.5 336,1019.2 339,1018.9 342,1018.6 345,1018.3 348,1018.0 351,1017.7 354,1017.5 357,1017.2 360,1016.9 363,1016.6 366,1016.3 369,1016.0 372,1015.7 375,1015.4 378,1015.1 381,1014.8 384,1014.5 387,1014.2 390,1013.9 393,1013.6 396,1013.3 399,1012.9 402,1012.6 405,1012.3 408,1011.9 411,1011.6 414,1011.3 417,1010.9 420,1010.6 423,1010.2 426,1009.9 429,1009.5 432,1009.2 435,1008.8 438,1008.5 441,1008.1 444,1007.8 447,1007.4 450,1007.1 453,1006.7 456,1006.4 459,1006.0 462,1005.6 465,1005.3 468,1004.9 471,1004.6 474,1004.3 477,1003.9 480,1003.6 483,1003.3 486,1002.9 489,1002.6 492,1002.3 495,1002.1 498,1001.8 501,1001.5 504,1001.2 507,1001.0 510,1000.8 513,1000.5 516,1000.3 519,1000.1 522,999.9 525,999.7 528,999.5 531,999.3 534,999.1 537,999.0 540,998.8 543,998.7 546,998.5 549,998.4 552,998.3 555,998.2 558,998.1 561,998.0 564,997.9 567,997.9 570,997.8 573,997.7 576,997.7 579,997.6 582,997.6 585,997.5 588,997.5 591,997.4 594,997.4 597,997.4 600,997.4 603,997.4 606,997.4 609,997.4 612,997.4 615,997.4 618,997.5 621,997.5 624,997.5 627,997.5 630,997.5 633,997.4 636,997.3 639,997.1 642,996.9 645,996.6 648,996.3 651,995.9 654,995.5 657,995.1 660,994.8 663,994.6 666,994.4 669,994.4 672,994.5 675,994.8 678,995.2 681,995.7 684,996.2 687,996.9 690,997.6 693,998.3 696,999.1 699,999.8 702,1000.6 705,1001.4 708,1002.3 711,1003.1 714,1004.0 717,1005.0 720,1005.9 723,1007.0 726,1008.0 729,1009.0 732,1010.0 735,1011.0 738,1011.9 741,1012.8 744,1013.6 747,1014.4 750,1015.1 753,1015.7 756,1016.3 759,1016.9 762,1017.3 765,1017.8 768,1018.2 771,1018.5 774,1018.9 777,1019.2 780,1019.5 783,1019.7 786,1019.9 789,1020.2 792,1020.4 795,1020.5 798,1020.7 801,1020.9 804,1021.0 807,1021.2 810,1021.3 813,1021.5 816,1021.6 819,1021.7 822,1021.9 825,1022.0 828,1022.1 831,1022.2 834,1022.4 837,1022.5 840,1022.7 843,1022.9 846,1023.0 849,1023.2 852,1023.4 855,1023.6 858,1023.8 861,1024.0 864,1024.2 867,1024.4 870,1024.5 873,1024.6 876,1024.7 879,1024.6 880,1024.6 881,1024.5 882,1024.5 883,1024.4 884,1024.3 885,1024.3 886,1024.1 887,1024.0 888,1023.9 889,1023.7 890,1023.6 891,1023.4 892,1023.2 893,1023.0 894,1022.7 895,1022.4 896,1022.2 897,1021.8 898,1021.5 899,1021.1 900,1020.8 901,1020.3 902,1019.9 903,1019.4 904,1018.9 905,1018.4 906,1017.8 907,1017.2 908,1016.6 909,1015.9 910,1015.2 911,1014.4 912,1013.6 913,1012.7 914,1011.9 915,1010.9 916,1009.9 917,1008.9 918,1007.8 919,1006.6 920,1005.4 921,1004.1 922,1002.8 923,1001.4 924,999.9 925,998.4 926,996.8 927,995.1 928,993.3 929,991.5 930,989.6 931,987.6 932,985.5 933,983.3 934,981.1 935,978.7 936,976.3 937,973.7 938,971.1 939,968.4 940,965.6 941,962.7 942,959.7 943,956.6 944,953.5 945,950.2 946,946.9 947,943.5 948,940.0 949,936.4 950,932.8 951,929.1 952,925.3 953,921.5 954,917.7 955,913.8 956,909.9 957,906.0 958,902.0 959,898.1 960,894.1 961,890.2 962,886.3 963,882.5 964,878.7 965,874.9 966,871.3 967,867.7 968,864.2 969,860.9 970,857.7 971,854.6 972,851.6 973,848.8 974,846.2 975,843.7 976,841.5 977,839.4 978,837.6 979,835.9 980,834.5 981,833.3 982,832.3 983,831.6 984,831.1 985,830.8 986,830.8 987,830.9 988,831.2 989,831.6 990,832.2 991,832.9 992,833.9 993,835.0 994,836.4 995,837.9 996,839.7 997,841.6 998,843.8 999,846.1 1000,848.7 1001,851.4 1002,854.3 1003,857.4 1004,860.7 1005,864.1 1006,867.7 1007,871.3 1008,875.1 1009,879.0 1010,883.0 1011,887.0 1012,891.1 1013,895.2 1014,899.4 1015,903.5 1016,907.6 1017,911.8 1018,915.8 1019,919.9 1020,923.8 1021,927.8 1022,931.6 1023,935.3 1024,939.0 1025,942.6 1026,946.0 1027,949.4 1028,952.6 1029,955.7 1030,958.8 1031,961.7 1032,964.5 1033,967.2 1034,969.8 1035,972.3 1036,974.7 1037,977.0 1038,979.2 1039,981.3 1040,983.3 1041,985.3 1042,987.2 1043,989.0 1044,990.7 1045,992.4 1046,994.0 1047,995.6 1048,997.1 1049,998.6 1050,1000.0 1051,1001.4 1052,1002.7 1053,1004.0 1054,1005.2 1055,1006.4 1056,1007.6 1057,1008.7 1058,1009.9 1059,1010.9 1060,1012.0 1061,1013.0 1062,1013.9 1063,1014.9 1064,1015.8 1065,1016.7 1066,1017.6 1067,1018.4 1068,1019.2 1069,1020.0 1070,1020.8 1071,1021.5 1072,1022.2 1073,1022.9 1074,1023.6 1075,1024.2 1076,1024.8 1077,1025.4 1078,1026.0 1079,1026.6 1080,1027.1 1081,1027.6 1082,1028.1 1083,1028.6 1084,1029.0 1085,1029.5 1086,1029.9 1087,1030.3 1088,1030.7 1089,1031.1 1090,1031.4 1092,1032.1 1095,1033.0 1098,1033.8 1101,1034.5 1104,1035.2 1107,1035.7 1110,1036.2 1113,1036.7 1116,1037.1 1119,1037.4 1122,1037.8 1125,1038.1 1128,1038.4 1131,1038.6 1134,1038.9 1137,1039.1 1140,1039.4 1143,1039.6 1146,1039.8 1149,1040.1 1152,1040.3 1155,1040.5 1158,1040.7 1161,1040.9 1164,1041.1 1167,1041.2 1170,1041.4 1173,1041.6 1176,1041.7 1179,1041.9 1182,1042.0 1185,1042.1 1188,1042.2 1191,1042.3 1194,1042.4 1197,1042.4 1200,1042.5 1203,1042.5 1206,1042.6 1209,1042.6 1212,1042.6 1215,1042.6 1218,1042.6 1221,1042.6 1224,1042.5 1227,1042.5 1230,1042.5 1233,1042.5 1236,1042.4 1239,1042.4 1242,1042.3 1245,1042.3 1248,1042.2 1251,1042.2 1254,1042.1 1257,1042.1 1260,1042.0 1263,1041.9 1266,1041.9 1269,1041.8 1272,1041.7 1275,1041.6 1278,1041.6 1281,1041.5 1284,1041.4 1287,1041.3 1290,1041.2 1293,1041.1 1296,1041.1 1299,1041.0 1302,1040.9 1305,1040.7 1308,1040.6 1311,1040.5 1314,1040.4 1317,1040.3 1320,1040.1 1323,1040.0 1326,1039.8 1329,1039.6 1332,1039.5 1335,1039.3 1338,1039.1 1341,1038.9 1344,1038.7 1347,1038.5 1350,1038.3 1353,1038.1 1356,1037.9 1359,1037.7 1362,1037.4 1365,1037.2 1368,1037.0 1371,1036.7 1374,1036.5 1377,1036.2 1380,1036.0 1383,1035.7 1386,1035.4 1389,1035.2 1392,1034.9 1395,1034.6 1398,1034.3 1401,1034.0 1404,1033.6 1407,1033.3 1410,1033.0 1413,1032.6 1416,1032.3 1419,1031.9 1422,1031.5 1425,1031.2 1428,1030.8 1431,1030.4 1434,1030.0 1437,1029.6 1440,1029.2 1443,1028.8 1446,1028.4 1449,1028.0 1452,1027.6 1455,1027.2 1458,1026.7 1461,1026.3 1464,1025.9 1467,1025.4 1470,1025.0 1473,1024.5 1476,1024.1 1479,1023.6 1482,1023.1 1485,1022.7 1488,1022.2 1491,1021.8 1494,1021.3 1497,1020.8 1500,1020.4 1503,1019.9 1506,1019.5 1509,1019.0 1512,1018.5 1515,1018.1 1518,1017.6 1521,1017.1 1524,1016.7 1527,1016.2 1530,1015.7 1533,1015.2 1536,1014.8 1539,1014.3 1542,1013.8 1545,1013.3 1548,1012.8 1551,1012.3 1554,1011.8 1557,1011.3 1560,1010.8 1563,1010.3 1566,1009.7 1569,1009.2 1572,1008.7 1575,1008.2 1578,1007.6 1581,1007.1 1584,1006.5 1587,1006.0 1590,1005.4 1593,1004.9 1596,1004.3 1599,1003.7 1602,1003.2 1605,1002.6 1608,1002.0 1611,1001.4 1614,1000.8 1617,1000.2 1620,999.6 1623,999.0 1626,998.4 1629,997.8 1632,997.2 1635,996.5 1638,995.9 1641,995.3 1644,994.6 1647,994.0 1650,993.3 1653,992.7 1656,992.0 1659,991.3 1662,990.7 1665,990.0 1668,989.3 1671,988.7 1674,988.0 1677,987.3"/>
<polyline stroke="#ff8000" points="264,1029.6 267,1029.3 270,1029.0 273,1028.7 276,1028.4 279,1028.1 282,1027.7 285,1027.4 288,1027.1 291,1026.8 294,1026.5 297,1026.2 300,1026.0 303,1025.7 306,1025.4 309,1025.1 312,1024.8 315,1024.5 318,1024.3 321,1024.0 324,1023.7 327,1023.5 330,1023.2 333,1023.0 336,1022.7 339,1022.5 342,1022.2 345,1022.0 348,1021.7 351,1021.5 354,1021.3 357,1021.0 360,1020.8 363,1020.6 366,1020.3 369,1020.1 372,1019.9 375,1019.7 378,1019.5 381,1019.3 384,1019.1 387,1018.9 390,1018.7 393,1018.5 396,1018.3 399,1018.2 402,1018.0 405,1017.8 408,1017.6 411,1017.5 414,1017.3 417,1017.1 420,1017.0 423,1016.8 426,1016.7 429,1016.5 432,1016.4 435,1016.2 438,1016.1 441,1016.0 444,1015.8 447,1015.7 450,1015.6 453,1015.4 456,1015.3 459,1015.2 462,1015.0 465,1014.9 468,1014.8 471,1014.7 474,1014.6 477,1014.5 480,1014.4 483,1014.3 486,1014.2 489,1014.1 492,1014.1 495,1014.0 498,1014.0 501,1013.9 504,1013.9 507,1013.9 510,1013.9 513,1013.9 516,1013.9 519,1013.9 522,1013.9 525,1013.9 528,1013.9 531,1013.9 534,1013.9 537,1013.9 540,1013.9 543,1013.9 546,1013.9 549,1013.9 552,1013.9 555,1013.9 558,1013.9 561,1013.9 564,1014.0 567,1014.0 570,1014.0 573,1014.1 576,1014.1 579,1014.1 582,1014.2 585,1014.2 588,1014.3 591,1014.4 594,1014.4 597,1014.5 600,1014.5 603,1014.6 606,1014.6 609,1014.7 612,1014.7 615,1014.8 618,1014.8 621,1014.8 624,1014.9 627,1014.9 630,1015.0 633,1015.0 636,1015.1 639,1015.1 642,1015.2 645,1015.2 648,1015.3 651,1015.4 654,1015.5 657,1015.6 660,1015.7 663,1015.9 666,1016.0 669,1016.2 672,1016.5 675,1016.8 678,1017.1 681,1017.4 684,1017.7 687,1018.1 690,1018.5 693,1018.9 696,1019.4 699,1019.8 702,1020.2 705,1020.7 708,1021.1 711,1021.6 714,1022.0 717,1022.4 720,1022.9 723,1023.3 726,1023.7 729,1024.1 732,1024.5 735,1024.9 738,1025.3 741,1025.6 744,1025.9 747,1026.2 750,1026.5 753,1026.7 756,1027.0 759,1027.2 762,1027.4 765,1027.6 768,1027.8 771,1027.9 774,1028.1 777,1028.2 780,1028.3 783,1028.4 786,1028.5 789,1028.6 792,1028.7 795,1028.8 798,1028.8 801,1028.9 804,1028.9 807,1028.9 810,1029.0 813,1029.0 816,1029.0 819,1029.0 822,1029.0 825,1029.0 828,1028.9 831,1028.9 834,1028.8 837,1028.7 840,1028.6 843,1028.5 846,1028.3 849,1028.1 852,1027.8 855,1027.5 858,1027.1 861,1026.6 864,1026.0 867,1025.3 870,1024.4 873,1023.4 876,1022.3 879,1020.9 880,1020.3 881,1019.8 882,1019.2 883,1018.6 884,1018.0 885,1017.3 886,1016.6 887,1015.8 888,1015.1 889,1014.2 890,1013.4 891,1012.5 892,1011.5 893,1010.5 894,1009.4 895,1008.3 896,1007.1 897,1005.9 898,1004.6 899,1003.3 900,1001.9 901,1000.4 902,998.8 903,997.2 904,995.5 905,993.7 906,991.9 907,989.9 908,987.9 909,985.8 910,983.5 911,981.2 912,978.8 913,976.3 914,973.6 915,970.9 916,968.0 917,965.0 918,961.9 919,958.6 920,955.2 921,951.7 922,948.1 923,944.2 924,940.3 925,936.2 926,931.9 927,927.5 928,922.9 929,918.1 930,913.2 931,908.1 932,902.8 933,897.4 934,891.8 935,886.0 936,880.0 937,873.8 938,867.5 939,861.0 940,854.3 941,847.5 942,840.5 943,833.3 944,826.0 945,818.5 946,810.9 947,803.2 948,795.3 949,787.3 950,779.2 951,771.0 952,762.7 953,754.4 954,746.0 955,737.5 956,729.0 957,720.6 958,712.1 959,703.6 960,695.2 961,686.9 962,678.6 963,670.5 964,662.5 965,654.6 966,646.9 967,639.3 968,632.0 969,624.9 970,618.1 971,611.5 972,605.2 973,599.2 974,593.5 975,588.2 976,583.3 977,578.7 978,574.5 979,570.7 980,567.4 981,564.4 982,561.9 983,559.9 984,558.3 985,557.1 986,556.5 987,556.2 988,556.4 989,556.8 990,557.7 991,558.9 992,560.5 993,562.6 994,565.1 995,568.1 996,571.7 997,575.7 998,580.2 999,585.2 1000,590.6 1001,596.6 1002,603.0 1003,609.9 1004,617.1 1005,624.8 1006,632.8 1007,641.2 1008,649.9 1009,658.8 1010,668.0 1011,677.4 1012,687.0 1013,696.6 1014,706.4 1015,716.2 1016,726.1 1017,735.9 1018,745.6 1019,755.3 1020,764.9 1021,774.3 1022,783.6 1023,792.6 1024,801.5 1025,810.1 1026,818.6 1027,826.7 1028,834.6 1029,842.3 1030,849.7 1031,856.8 1032,863.6 1033,870.2 1034,876.6 1035,882.7 1036,888.5 1037,894.1 1038,899.5 1039,904.7 1040,909.6 1041,914.4 1042,918.9 1043,923.3 1044,927.5 1045,931.6 1046,935.5 1047,939.3 1048,942.9 1049,946.4 1050,949.8 1051,953.1 1052,956.2 1053,959.3 1054,962.3 1055,965.1 1056,967.9 1057,970.6 1058,973.2 1059,975.7 1060,978.2 1061,980.5 1062,982.8 1063,985.1 1064,987.2 1065,989.3 1066,991.3 1067,993.2 1068,995.1 1069,996.9 1070,998.7 1071,1000.4 1072,1002.0 1073,1003.6 1074,1005.1 1075,1006.5 1076,1007.9 1077,1009.3 1078,1010.6 1079,1011.8 1080,1013.0 1081,1014.2 1082,1015.3 1083,1016.3 1084,1017.3 1085,1018.3 1086,1019.2 1087,1020.1 1088,1020.9 1089,1021.7 1090,1022.4 1092,1023.9 1095,1025.7 1098,1027.3 1101,1028.7 1104,1029.9 1107,1030.8 1110,1031.7 1113,1032.3 1116,1032.9 1119,1033.4 1122,1033.8 1125,1034.1 1128,1034.4 1131,1034.6 1134,1034.8 1137,1034.9 1140,1035.0 1143,1035.1 1146,1035.2 1149,1035.3 1152,1035.3 1155,1035.4 1158,1035.4 1161,1035.5 1164,1035.5 1167,1035.5 1170,1035.6 1173,1035.6 1176,1035.6 1179,1035.6 1182,1035.6 1185,1035.7 1188,1035.7 1191,1035.7 1194,1035.7 1197,1035.7 1200,1035.7 1203,1035.7 1206,1035.7 1209,1035.7 1212,1035.7 1215,1035.6 1218,1035.6 1221,1035.6 1224,1035.5 1227,1035.5 1230,1035.5 1233,1035.4 1236,1035.4 1239,1035.3 1242,1035.2 1245,1035.2 1248,1035.1 1251,1035.0 1254,1034.9 1257,1034.8 1260,1034.8 1263,1034.7 1266,1034.6 1269,1034.5 1272,1034.4 1275,1034.3 1278,1034.2 1281,1034.0 1284,1033.9 1287,1033.8 1290,1033.7 1293,1033.6 1296,1033.5 1299,1033.3 1302,1033.2 1305,1033.0 1308,1032.9 1311,1032.7 1314,1032.6 1317,1032.4 1320,1032.2 1323,1032.0 1326,1031.8 1329,1031.6 1332,1031.4 1335,1031.1 1338,1030.9 1341,1030.6 1344,1030.4 1347,1030.1 1350,1029.9 1353,1029.6 1356,1029.3 1359,1029.1 1362,1028.8 1365,1028.5 1368,1028.2 1371,1027.9 1374,1027.6 1377,1027.3 1380,1027.0 1383,1026.7 1386,1026.4 1389,1026.1 1392,1025.7 1395,1025.4 1398,1025.1 1401,1024.7 1404,1024.4 1407,1024.0 1410,1023.6 1413,1023.3 1416,1022.9 1419,1022.5 1422,1022.1 1425,1021.7 1428,1021.3 1431,1021.0 1434,1020.6 1437,1020.2 1440,1019.8 1443,1019.4 1446,1019.0 1449,1018.6 1452,1018.2 1455,1017.8 1458,1017.4 1461,1017.0 1464,1016.5 1467,1016.1 1470,1015.7 1473,1015.3 1476,1014.9 1479,1014.4 1482,1014.0 1485,1013.6 1488,1013.2 1491,1012.7 1494,1012.3 1497,1011.9 1500,1011.4 1503,1011.0 1506,1010.6 1509,1010.1 1512,1009.7 1515,1009.2 1518,1008.8 1521,1008.3 1524,1007.9 1527,1007.4 1530,1006.9 1533,1006.5 1536,1006.0 1539,1005.5 1542,1005.0 1545,1004.4 1548,1003.9 1551,1003.4 1554,1002.8 1557,1002.2 1560,1001.6 1563,1001.0 1566,1000.4 1569,999.8 1572,999.2 1575,998.5 1578,997.9 1581,997.2 1584,996.5 1587,995.8 1590,995.1 1593,994.4 1596,993.7 1599,993.0 1602,992.2 1605,991.5 1608,990.7 1611,989.9 1614,989.1 1617,988.3 1620,987.5 1623,986.7 1626,985.9 1629,985.0 1632,984.2 1635,983.3 1638,982.4 1641,981.5 1644,980.7 1647,979.7 1650,978.8 1653,977.9 1656,977.0 1659,976.0 1662,975.1 1665,974.1 1668,973.2 1671,972.2 1674,971.2 1677,970.3"/>
<polyline stroke="#8000ff" points="264,1035.0 267,1034.7 270,1034.4 273,1034.1 276,1033.8 279,1033.5 282,1033.3 285,1033.0 288,1032.7 291,1032.4 294,1032.2 297,1031.9 300,1031.6 303,1031.4 306,1031.1 309,1030.8 312,1030.6 315,1030.3 318,1030.1 321,1029.9 324,1029.6 327,1029.4 330,1029.1 333,1028.9 336,1028.7 339,1028.5 342,1028.2 345,1028.0 348,1027.8 351,1027.6 354,1027.4 357,1027.2 360,1027.0 363,1026.8 366,1026.6 369,1026.4 372,1026.2 375,1026.0 378,1025.8 381,1025.7 384,1025.5 387,1025.3 390,1025.1 393,1025.0 396,1024.8 399,1024.7 402,1024.5 405,1024.3 408,1024.2 411,1024.1 414,1023.9 417,1023.8 420,1023.6 423,1023.5 426,1023.4 429,1023.2 432,1023.1 435,1023.0 438,1022.8 441,1022.7 444,1022.6 447,1022.5 450,1022.4 453,1022.2 456,1022.1 459,1022.0 462,1021.9 465,1021.8 468,1021.7 471,1021.6 474,1021.5 477,1021.4 480,1021.3 483,1021.2 486,1021.1 489,1021.0 492,1020.9 495,1020.8 498,1020.7 501,1020.6 504,1020.5 507,1020.4 510,1020.3 513,1020.2 516,1020.1 519,1019.9 522,1019.8 525,1019.7 528,1019.6 531,1019.5 534,1019.4 537,1019.3 540,1019.2 543,1019.1 546,1018.9 549,1018.8 552,1018.7 555,1018.6 558,1018.5 561,1018.4 564,1018.3 567,1018.2 570,1018.1 573,1017.9 576,1017.8 579,1017.7 582,1017.6 585,1017.5 588,1017.4 591,1017.3 594,1017.2 597,1017.0 600,1016.9 603,1016.8 606,1016.7 609,1016.6 612,1016.4 615,1016.3 618,1016.2 621,1016.1 624,1015.9 627,1015.8 630,1015.7 633,1015.5 636,1015.4 639,1015.3 642,1015.2 645,1015.1 648,1015.0 651,1015.0 654,1014.9 657,1014.9 660,1015.0 663,1015.0 666,1015.1 669,1015.3 672,1015.5 675,1015.7 678,1016.0 681,1016.3 684,1016.7 687,1017.1 690,1017.6 693,1018.1 696,1018.6 699,1019.1 702,1019.7 705,1020.3 708,1020.9 711,1021.5 714,1022.1 717,1022.6 720,1023.1 723,1023.6 726,1024.0 729,1024.4 732,1024.7 735,1025.1 738,1025.4 741,1025.7 744,1025.9 747,1026.2 750,1026.4 753,1026.7 756,1026.9 759,1027.1 762,1027.3 765,1027.5 768,1027.7 771,1027.9 774,1028.0 777,1028.1 780,1028.2 783,1028.3 786,1028.4 789,1028.5 792,1028.5 795,1028.6 798,1028.6 801,1028.7 804,1028.7 807,1028.7 810,1028.7 813,1028.6 816,1028.6 819,1028.5 822,1028.4 825,1028.3 828,1028.1 831,1027.9 834,1027.7 837,1027.4 840,1027.0 843,1026.5 846,1025.9 849,1025.2 852,1024.4 855,1023.4 858,1022.2 861,1020.8 864,1019.1 867,1017.2 870,1014.9 873,1012.2 876,1009.1 879,1005.5 880,1004.2 881,1002.9 882,1001.4 883,999.9 884,998.3 885,996.7 886,995.0 887,993.2 888,991.3 889,989.3 890,987.2 891,985.1 892,982.8 893,980.5 894,978.0 895,975.5 896,972.8 897,970.0 898,967.1 899,964.0 900,960.9 901,957.6 902,954.1 903,950.5 904,946.8 905,942.9 906,938.9 907,934.7 908,930.3 909,925.7 910,921.0 911,916.1 912,911.0 913,905.7 914,900.2 915,894.4 916,888.5 917,882.4 918,876.0 919,869.4 920,862.5 921,855.5 922,848.1 923,840.6 924,832.8 925,824.7 926,816.4 927,807.8 928,799.0 929,789.9 930,780.5 931,770.9 932,761.0 933,750.9 934,740.5 935,729.9 936,719.0 937,707.9 938,696.6 939,685.0 940,673.2 941,661.2 942,649.0 943,636.6 944,624.1 945,611.4 946,598.5 947,585.6 948,572.5 949,559.4 950,546.2 951,532.9 952,519.6 953,506.3 954,493.1 955,479.9 956,466.8 957,453.8 958,440.9 959,428.2 960,415.7 961,403.3 962,391.3 963,379.5 964,368.0 965,356.9 966,346.1 967,335.7 968,325.7 969,316.1 970,307.1 971,298.5 972,290.4 973,282.9 974,276.0 975,269.6 976,263.8 977,258.7 978,254.1 979,250.3 980,247.0 981,244.5 982,242.6 983,241.4 984,240.9 985,241.0 986,241.7 987,242.9 988,244.9 989,247.6 990,251.2 991,255.5 992,260.8 993,266.9 994,273.9 995,281.8 996,290.6 997,300.2 998,310.7 999,322.0 1000,334.1 1001,347.0 1002,360.5 1003,374.7 1004,389.4 1005,404.7 1006,420.5 1007,436.6 1008,453.1 1009,469.8 1010,486.6 1011,503.6 1012,520.7 1013,537.7 1014,554.6 1015,571.4 1016,588.0 1017,604.3 1018,620.4 1019,636.1 1020,651.4 1021,666.3 1022,680.8 1023,694.9 1024,708.4 1025,721.6 1026,734.2 1027,746.4 1028,758.1 1029,769.3 1030,780.0 1031,790.4 1032,800.3 1033,809.7 1034,818.8 1035,827.5 1036,835.8 1037,843.8 1038,851.5 1039,858.8 1040,865.9 1041,872.7 1042,879.2 1043,885.5 1044,891.6 1045,897.5 1046,903.1 1047,908.5 1048,913.8 1049,918.9 1050,923.8 1051,928.6 1052,933.2 1053,937.7 1054,942.0 1055,946.1 1056,950.2 1057,954.1 1058,957.9 1059,961.5 1060,965.0 1061,968.4 1062,971.7 1063,974.9 1064,977.9 1065,980.9 1066,983.7 1067,986.5 1068,989.1 1069,991.6 1070,994.0 1071,996.3 1072,998.6 1073,1000.7 1074,1002.8 1075,1004.7 1076,1006.6 1077,1008.4 1078,1010.1 1079,1011.7 1080,1013.3 1081,1014.8 1082,1016.2 1083,1017.5 1084,1018.8 1085,1020.0 1086,1021.2 1087,1022.3 1088,1023.3 1089,1024.3 1090,1025.3 1092,1027.0 1095,1029.2 1098,1031.1 1101,1032.7 1104,1034.0 1107,1035.1 1110,1036.0 1113,1036.8 1116,1037.4 1119,1037.9 1122,1038.3 1125,1038.6 1128,1038.9 1131,1039.1 1134,1039.3 1137,1039.5 1140,1039.6 1143,1039.7 1146,1039.8 1149,1039.9 1152,1039.9 1155,1040.0 1158,1040.1 1161,1040.1 1164,1040.1 1167,1040.2 1170,1040.2 1173,1040.3 1176,1040.3 1179,1040.3 1182,1040.3 1185,1040.4 1188,1040.4 1191,1040.4 1194,1040.4 1197,1040.4 1200,1040.4 1203,1040.4 1206,1040.4 1209,1040.4 1212,1040.4 1215,1040.4 1218,1040.3 1221,1040.3 1224,1040.2 1227,1040.2 1230,1040.1 1233,1040.1 1236,1040.0 1239,1039.9 1242,1039.8 1245,1039.8 1248,1039.7 1251,1039.6 1254,1039.5 1257,1039.4 1260,1039.3 1263,1039.1 1266,1039.0 1269,1038.9 1272,1038.8 1275,1038.7 1278,1038.5 1281,1038.4 1284,1038.3 1287,1038.2 1290,1038.0 1293,1037.9 1296,1037.7 1299,1037.6 1302,1037.4 1305,1037.3 1308,1037.1 1311,1037.0 1314,1036.8 1317,1036.6 1320,1036.4 1323,1036.2 1326,1036.0 1329,1035.8 1332,1035.6 1335,1035.4 1338,1035.2 1341,1034.9 1344,1034.7 1347,1034.4 1350,1034.2 1353,1033.9 1356,1033.6 1359,1033.4 1362,1033.1 1365,1032.8 1368,1032.5 1371,1032.2 1374,1031.8 1377,1031.5 1380,1031.2 1383,1030.8 1386,1030.5 1389,1030.1 1392,1029.7 1395,1029.3 1398,1028.8 1401,1028.4 1404,1028.0 1407,1027.5 1410,1027.0 1413,1026.5 1416,1026.0 1419,1025.5 1422,1025.0 1425,1024.5 1428,1023.9 1431,1023.4 1434,1022.9 1437,1022.3 1440,1021.7 1443,1021.2 1446,1020.6 1449,1020.0 1452,1019.4 1455,1018.8 1458,1018.2 1461,1017.6 1464,1017.0 1467,1016.3 1470,1015.7 1473,1015.0 1476,1014.4 1479,1013.7 1482,1013.0 1485,1012.4 1488,1011.7 1491,1011.0 1494,1010.3 1497,1009.6 1500,1008.9 1503,1008.2 1506,1007.5 1509,1006.8 1512,1006.0 1515,1005.3 1518,1004.6 1521,1003.8 1524,1003.1 1527,1002.3 1530,1001.5 1533,1000.8 1536,1000.0 1539,999.2 1542,998.5 1545,997.7 1548,996.9 1551,996.1 1554,995.3 1557,994.5 1560,993.7 1563,992.9 1566,992.1 1569,991.3 1572,990.5 1575,989.7 1578,988.8 1581,988.0 1584,987.2 1587,986.3 1590,985.4 1593,984.5 1596,983.6 1599,982.7 1602,981.8 1605,980.8 1608,979.9 1611,978.9 1614,977.9 1617,976.9 1620,975.8 1623,974.8 1626,973.7 1629,972.7 1632,971.6 1635,970.5 1638,969.3 1641,968.2 1644,967.1 1647,965.9 1650,964.7 1653,963.5 1656,962.3 1659,961.1 1662,959.9 1665,958.7 1668,957.5 1671,956.3 1674,955.0 1677,953.8"/>
<polyline stroke="#ff0000" points="264,1038.8 267,1038.5 270,1038.3 273,1038.0 276,1037.8 279,1037.5 282,1037.3 285,1037.0 288,1036.7 291,1036.5 294,1036.2 297,1036.0 300,1035.8 303,1035.5 306,1035.3 309,1035.0 312,1034.8 315,1034.5 318,1034.3 321,1034.1 324,1033.8 327,1033.6 330,1033.4 333,1033.1 336,1032.9 339,1032.6 342,1032.4 345,1032.2 348,1031.9 351,1031.7 354,1031.5 357,1031.3 360,1031.0 363,1030.8 366,1030.6 369,1030.4 372,1030.2 375,1030.0 378,1029.8 381,1029.6 384,1029.4 387,1029.2 390,1029.1 393,1028.9 396,1028.8 399,1028.6 402,1028.5 405,1028.3 408,1028.2 411,1028.1 414,1027.9 417,1027.8 420,1027.7 423,1027.6 426,1027.5 429,1027.3 432,1027.2 435,1027.1 438,1027.0 441,1026.9 444,1026.8 447,1026.7 450,1026.6 453,1026.5 456,1026.4 459,1026.3 462,1026.2 465,1026.1 468,1026.0 471,1025.8 474,1025.7 477,1025.6 480,1025.5 483,1025.4 486,1025.3 489,1025.2 492,1025.1 495,1025.0 498,1024.9 501,1024.8 504,1024.7 507,1024.6 510,1024.5 513,1024.4 516,1024.3 519,1024.2 522,1024.1 525,1024.0 528,1023.9 531,1023.8 534,1023.7 537,1023.6 540,1023.5 543,1023.4 546,1023.3 549,1023.2 552,1023.1 555,1023.1 558,1023.0 561,1022.9 564,1022.9 567,1022.8 570,1022.7 573,1022.7 576,1022.6 579,1022.6 582,1022.5 585,1022.4 588,1022.4 591,1022.3 594,1022.3 597,1022.2 600,1022.2 603,1022.1 606,1022.0 609,1022.0 612,1021.9 615,1021.8 618,1021.7 621,1021.7 624,1021.6 627,1021.5 630,1021.4 633,1021.3 636,1021.2 639,1021.2 642,1021.1 645,1021.0 648,1021.0 651,1021.0 654,1020.9 657,1021.0 660,1021.0 663,1021.1 666,1021.2 669,1021.3 672,1021.5 675,1021.7 678,1022.0 681,1022.3 684,1022.6 687,1023.0 690,1023.5 693,1023.9 696,1024.4 699,1025.0 702,1025.5 705,1026.1 708,1026.7 711,1027.3 714,1027.9 717,1028.4 720,1029.0 723,1029.5 726,1030.0 729,1030.4 732,1030.8 735,1031.2 738,1031.5 741,1031.8 744,1032.0 747,1032.3 750,1032.5 753,1032.7 756,1032.8 759,1033.0 762,1033.1 765,1033.3 768,1033.4 771,1033.5 774,1033.6 777,1033.7 780,1033.7 783,1033.8 786,1033.9 789,1033.9 792,1034.0 795,1034.0 798,1034.1 801,1034.1 804,1034.1 807,1034.1 810,1034.0 813,1034.0 816,1033.9 819,1033.8 822,1033.7 825,1033.5 828,1033.3 831,1033.0 834,1032.7 837,1032.3 840,1031.8 843,1031.2 846,1030.5 849,1029.7 852,1028.7 855,1027.5 858,1026.1 861,1024.5 864,1022.5 867,1020.2 870,1017.6 873,1014.5 876,1010.9 879,1006.8 880,1005.3 881,1003.7 882,1002.1 883,1000.4 884,998.5 885,996.7 886,994.7 887,992.6 888,990.4 889,988.2 890,985.8 891,983.3 892,980.7 893,978.1 894,975.2 895,972.3 896,969.2 897,966.0 898,962.7 899,959.2 900,955.6 901,951.8 902,947.9 903,943.8 904,939.5 905,935.0 906,930.4 907,925.6 908,920.6 909,915.4 910,910.0 911,904.3 912,898.5 913,892.4 914,886.1 915,879.6 916,872.8 917,865.7 918,858.4 919,850.9 920,843.1 921,835.0 922,826.6 923,818.0 924,809.0 925,799.8 926,790.3 927,780.5 928,770.4 929,760.0 930,749.3 931,738.3 932,727.0 933,715.4 934,703.6 935,691.4 936,679.0 937,666.3 938,653.3 939,640.1 940,626.6 941,612.9 942,598.9 943,584.8 944,570.5 945,556.0 946,541.3 947,526.5 948,511.5 949,496.5 950,481.4 951,466.3 952,451.1 953,435.9 954,420.8 955,405.7 956,390.7 957,375.9 958,361.1 959,346.6 960,332.3 961,318.2 962,304.4 963,291.0 964,277.9 965,265.1 966,252.8 967,240.9 968,229.5 969,218.6 970,208.2 971,198.4 972,189.2 973,180.6 974,172.6 975,165.3 976,158.7 977,152.8 978,147.7 979,143.2 980,139.5 981,136.6 982,134.5 983,133.1 984,132.5 985,132.6 986,133.3 987,134.7 988,137.0 989,140.1 990,144.1 991,149.1 992,155.0 993,162.0 994,170.0 995,179.0 996,189.0 997,200.0 998,211.9 999,224.8 1000,238.6 1001,253.3 1002,268.7 1003,284.9 1004,301.7 1005,319.2 1006,337.1 1007,355.5 1008,374.3 1009,393.3 1010,412.6 1011,432.0 1012,451.4 1013,470.8 1014,490.1 1015,509.3 1016,528.2 1017,546.8 1018,565.1 1019,583.0 1020,600.5 1021,617.5 1022,634.1 1023,650.1 1024,665.6 1025,680.5 1026,695.0 1027,708.8 1028,722.2 1029,735.0 1030,747.2 1031,759.0 1032,770.3 1033,781.1 1034,791.4 1035,801.4 1036,810.9 1037,820.0 1038,828.7 1039,837.1 1040,845.2 1041,852.9 1042,860.4 1043,867.6 1044,874.5 1045,881.1 1046,887.6 1047,893.8 1048,899.8 1049,905.6 1050,911.2 1051,916.6 1052,921.9 1053,927.0 1054,931.9 1055,936.7 1056,941.3 1057,945.7 1058,950.0 1059,954.2 1060,958.2 1061,962.1 1062,965.8 1063,969.4 1064,972.9 1065,976.3 1066,979.5 1067,982.6 1068,985.6 1069,988.5 1070,991.2 1071,993.9 1072,996.4 1073,998.8 1074,1001.2 1075,1003.4 1076,1005.5 1077,1007.6 1078,1009.5 1079,1011.4 1080,1013.2 1081,1014.8 1082,1016.5 1083,1018.0 1084,1019.4 1085,1020.8 1086,1022.1 1087,1023.4 1088,1024.6 1089,1025.7 1090,1026.8 1092,1028.7 1095,1031.3 1098,1033.4 1101,1035.2 1104,1036.7 1107,1038.0 1110,1039.0 1113,1039.8 1116,1040.5 1119,1041.1 1122,1041.5 1125,1041.9 1128,1042.2 1131,1042.4 1134,1042.6 1137,1042.8 1140,1042.9 1143,1043.1 1146,1043.2 1149,1043.2 1152,1043.3 1155,1043.4 1158,1043.4 1161,1043.5 1164,1043.5 1167,1043.6 1170,1043.6 1173,1043.6 1176,1043.7 1179,1043.7 1182,1043.7 1185,1043.8 1188,1043.8 1191,1043.8 1194,1043.8 1197,1043.8 1200,1043.8 1203,1043.8 1206,1043.8 1209,1043.8 1212,1043.8 1215,1043.7 1218,1043.7 1221,1043.7 1224,1043.6 1227,1043.6 1230,1043.5 1233,1043.5 1236,1043.4 1239,1043.3 1242,1043.2 1245,1043.2 1248,1043.1 1251,1043.0 1254,1042.9 1257,1042.8 1260,1042.7 1263,1042.5 1266,1042.4 1269,1042.3 1272,1042.2 1275,1042.1 1278,1041.9 1281,1041.8 1284,1041.7 1287,1041.5 1290,1041.4 1293,1041.3 1296,1041.1 1299,1041.0 1302,1040.8 1305,1040.7 1308,1040.5 1311,1040.3 1314,1040.2 1317,1040.0 1320,1039.8 1323,1039.6 1326,1039.4 1329,1039.2 1332,1039.0 1335,1038.7 1338,1038.5 1341,1038.3 1344,1038.0 1347,1037.8 1350,1037.5 1353,1037.2 1356,1037.0 1359,1036.7 1362,1036.4 1365,1036.1 1368,1035.8 1371,1035.6 1374,1035.3 1377,1034.9 1380,1034.6 1383,1034.3 1386,1034.0 1389,1033.6 1392,1033.3 1395,1032.9 1398,1032.6 1401,1032.2 1404,1031.8 1407,1031.4 1410,1031.0 1413,1030.6 1416,1030.2 1419,1029.8 1422,1029.3 1425,1028.9 1428,1028.4 1431,1027.9 1434,1027.4 1437,1026.9 1440,1026.4 1443,1025.9 1446,1025.3 1449,1024.8 1452,1024.2 1455,1023.6 1458,1023.0 1461,1022.4 1464,1021.7 1467,1021.1 1470,1020.4 1473,1019.7 1476,1019.1 1479,1018.4 1482,1017.7 1485,1017.0 1488,1016.3 1491,1015.6 1494,1014.9 1497,1014.2 1500,1013.5 1503,1012.8 1506,1012.1 1509,1011.4 1512,1010.6 1515,1009.9 1518,1009.2 1521,1008.4 1524,1007.7 1527,1006.9 1530,1006.2 1533,1005.4 1536,1004.7 1539,1003.9 1542,1003.2 1545,1002.4 1548,1001.7 1551,1000.9 1554,1000.1 1557,999.4 1560,998.6 1563,997.8 1566,997.1 1569,996.3 1572,995.5 1575,994.7 1578,993.9 1581,993.1 1584,992.3 1587,991.5 1590,990.6 1593,989.8 1596,988.9 1599,988.0 1602,987.2 1605,986.2 1608,985.3 1611,984.4 1614,983.4 1617,982.4 1620,981.4 1623,980.4 1626,979.4 1629,978.3 1632,977.2 1635,976.2 1638,975.1 1641,974.0 1644,972.8 1647,971.7 1650,970.5 1653,969.4 1656,968.2 1659,967.0 1662,965.8 1665,964.6 1668,963.4 1671,962.2 1674,961.0 1677,959.8"/>
</g>
<g font-family='"Liberation Serif", "DejaVu Serif", serif' font-weight="bold" font-size="66.5px" fill="#000">
<text x="236.5" y="1122.1" text-anchor="end">0</text>
<text x="236.5" y="783.1" text-anchor="end">20</text>
<text x="236.5" y="444.1" text-anchor="end">40</text>
<text x="236.5" y="105.1" text-anchor="end">60</text>
<text x="271.5" y="1188" text-anchor="middle">-0.2</text>
<text x="504.3" y="1188" text-anchor="middle">0.0</text>
<text x="737.2" y="1188" text-anchor="middle">0.2</text>
<text x="970.0" y="1188" text-anchor="middle">0.4</text>
<text x="1202.8" y="1188" text-anchor="middle">0.6</text>
<text x="1435.7" y="1188" text-anchor="middle">0.8</text>
<text x="1668.5" y="1188" text-anchor="middle">1.0</text>
</g>
<g font-family='"Liberation Serif", "DejaVu Serif", serif' font-weight="bold" font-size="90.6px" fill="#000">
<text x="970.3" y="1306.7" text-anchor="middle">Potential/V</text>
<text transform="translate(113.6,586.8) rotate(-90)" text-anchor="middle">Current/<tspan font-weight="normal" stroke="#000" stroke-width="1.7" stroke-linejoin="round">μ</tspan>A</text>
</g>
<g stroke-width="9" stroke-linecap="round">
<line x1="1114" y1="205.3" x2="1259.5" y2="205.3" stroke="#000000"/>
<line x1="1114" y1="299.8" x2="1259.5" y2="299.8" stroke="#00ff00"/>
<line x1="1114" y1="394.3" x2="1259.5" y2="394.3" stroke="#0000ff"/>
<line x1="1114" y1="484.0" x2="1259.5" y2="484.0" stroke="#ff00ff"/>
<line x1="1114" y1="573.8" x2="1259.5" y2="573.8" stroke="#007f00"/>
<line x1="1114" y1="664.0" x2="1259.5" y2="664.0" stroke="#ff8000"/>
<line x1="1114" y1="753.7" x2="1259.5" y2="753.7" stroke="#8000ff"/>
<line x1="1114" y1="843.5" x2="1259.5" y2="843.5" stroke="#ff0000"/>
</g>
<g font-family='"Liberation Serif", "DejaVu Serif", serif' font-weight="bold" font-size="66.5px" fill="#000">
<text x="1276" y="228.1" xml:space="preserve">5.0 <tspan font-weight="normal" dx="-3">×</tspan> 10<tspan font-size="38.5px" dy="-32.8" font-weight="normal">−</tspan><tspan font-size="38.5px">7</tspan><tspan dy="32.8"> M</tspan></text>
<text x="1276" y="322.6" xml:space="preserve">1.0 <tspan font-weight="normal" dx="-3">×</tspan> 10<tspan font-size="38.5px" dy="-32.8" font-weight="normal">−</tspan><tspan font-size="38.5px">6</tspan><tspan dy="32.8"> M</tspan></text>
<text x="1276" y="417.1" xml:space="preserve">5.0 <tspan font-weight="normal" dx="-3">×</tspan> 10<tspan font-size="38.5px" dy="-32.8" font-weight="normal">−</tspan><tspan font-size="38.5px">6</tspan><tspan dy="32.8"> M</tspan></text>
<text x="1276" y="505.2" xml:space="preserve">1.0 <tspan font-weight="normal" dx="-3">×</tspan> 10<tspan font-size="38.5px" dy="-32.8">-5</tspan><tspan dy="32.8"> M</tspan></text>
<text x="1276" y="595.0" xml:space="preserve">2.5 <tspan font-weight="normal" dx="-3">×</tspan> 10<tspan font-size="38.5px" dy="-32.8">-5</tspan><tspan dy="32.8"> M</tspan></text>
<text x="1276" y="685.2" xml:space="preserve">5.0 <tspan font-weight="normal" dx="-3">×</tspan> 10<tspan font-size="38.5px" dy="-32.8">-5</tspan><tspan dy="32.8"> M</tspan></text>
<text x="1276" y="774.9" xml:space="preserve">7.5 <tspan font-weight="normal" dx="-3">×</tspan> 10<tspan font-size="38.5px" dy="-32.8">-5</tspan><tspan dy="32.8"> M</tspan></text>
<text x="1276" y="864.7" xml:space="preserve">1.0 <tspan font-weight="normal" dx="-3">×</tspan> 10<tspan font-size="38.5px" dy="-32.8">-4</tspan><tspan dy="32.8"> M</tspan></text>
</g>
<g stroke="#1a1a1a" stroke-width="3.6" fill="none">
<path stroke-linecap="square" d="M411 156 V526 H919.5"/>
<path stroke-linecap="square" d="M411 156 H919.5"/>
</g>
<line x1="920.2" y1="156" x2="920.2" y2="526" stroke="#7a7a7a" stroke-width="1.2"/>
<g stroke="#111" stroke-width="2.6" fill="none">
<line x1="411" y1="507.8" x2="419" y2="507.8"/>
<line x1="411" y1="447.3" x2="419" y2="447.3"/>
<line x1="411" y1="386.8" x2="419" y2="386.8"/>
<line x1="411" y1="326.3" x2="419" y2="326.3"/>
<line x1="411" y1="265.8" x2="419" y2="265.8"/>
<line x1="411" y1="205.3" x2="419" y2="205.3"/>
<line x1="411" y1="477.6" x2="415" y2="477.6"/>
<line x1="411" y1="417.1" x2="415" y2="417.1"/>
<line x1="411" y1="356.6" x2="415" y2="356.6"/>
<line x1="411" y1="296.1" x2="415" y2="296.1"/>
<line x1="411" y1="235.6" x2="415" y2="235.6"/>
<line x1="411" y1="175.1" x2="415" y2="175.1"/>
<line x1="442.3" y1="526" x2="442.3" y2="517"/>
<line x1="550.8" y1="526" x2="550.8" y2="517"/>
<line x1="659.2" y1="526" x2="659.2" y2="517"/>
<line x1="767.7" y1="526" x2="767.7" y2="517"/>
<line x1="876.2" y1="526" x2="876.2" y2="517"/>
<line x1="496.5" y1="526" x2="496.5" y2="521"/>
<line x1="605.0" y1="526" x2="605.0" y2="521"/>
<line x1="713.5" y1="526" x2="713.5" y2="521"/>
<line x1="822.0" y1="526" x2="822.0" y2="521"/>
</g>
<line x1="443.1" y1="501.2" x2="877.1" y2="173" stroke="#ff0000" stroke-width="2.2"/>
<rect x="439.4" y="502.0" width="9" height="9" fill="#000"/>
<rect x="441.9" y="499.8" width="9" height="9" fill="#000"/>
<rect x="459.5" y="476.8" width="9" height="9" fill="#000"/>
<rect x="481.3" y="447.4" width="9" height="9" fill="#000"/>
<rect x="546.1" y="425.2" width="9" height="9" fill="#000"/>
<rect x="654.3" y="340.2" width="9" height="9" fill="#000"/>
<rect x="763.2" y="233.3" width="9" height="9" fill="#000"/>
<rect x="871.7" y="178.3" width="9" height="9" fill="#000"/>
<g font-family='"Liberation Serif", "DejaVu Serif", serif' font-weight="bold" font-size="24px" fill="#111">
<text x="401.5" y="456.1" text-anchor="end">1x10<tspan font-size="14.5px" dy="-13.5">-5</tspan></text>
<text x="401.5" y="395.6" text-anchor="end">2x10<tspan font-size="14.5px" dy="-13.5">-5</tspan></text>
<text x="401.5" y="335.1" text-anchor="end">3x10<tspan font-size="14.5px" dy="-13.5">-5</tspan></text>
<text x="401.5" y="274.6" text-anchor="end">4x10<tspan font-size="14.5px" dy="-13.5">-5</tspan></text>
<text x="401.5" y="214.1" text-anchor="end">5x10<tspan font-size="14.5px" dy="-13.5">-5</tspan></text>
<text x="400.5" y="515.5" text-anchor="end">0</text>
<text x="441.2" y="553.2" text-anchor="middle">0.00</text>
<text x="550.5" y="557.4" text-anchor="middle">2.50x10<tspan font-size="14.5px" dy="-13.5">-5</tspan></text>
<text x="659.0" y="557.4" text-anchor="middle">5.00x10<tspan font-size="14.5px" dy="-13.5">-5</tspan></text>
<text x="767.4" y="557.4" text-anchor="middle">7.50x10<tspan font-size="14.5px" dy="-13.5">-5</tspan></text>
<text x="875.9" y="557.4" text-anchor="middle">1.00x10<tspan font-size="14.5px" dy="-13.5">-4</tspan></text>
</g>
<g font-family='"Liberation Serif", "DejaVu Serif", serif' font-weight="bold" font-size="33px" fill="#111">
<text x="650.7" y="597.7" text-anchor="middle"><tspan font-style="italic">c</tspan>/M</text>
<text transform="translate(323.3,365) rotate(-90)" text-anchor="middle">I<tspan font-size="20px" dy="7">p</tspan><tspan dy="-7">/A</tspan></text>
</g>
</svg>
</body></html>
